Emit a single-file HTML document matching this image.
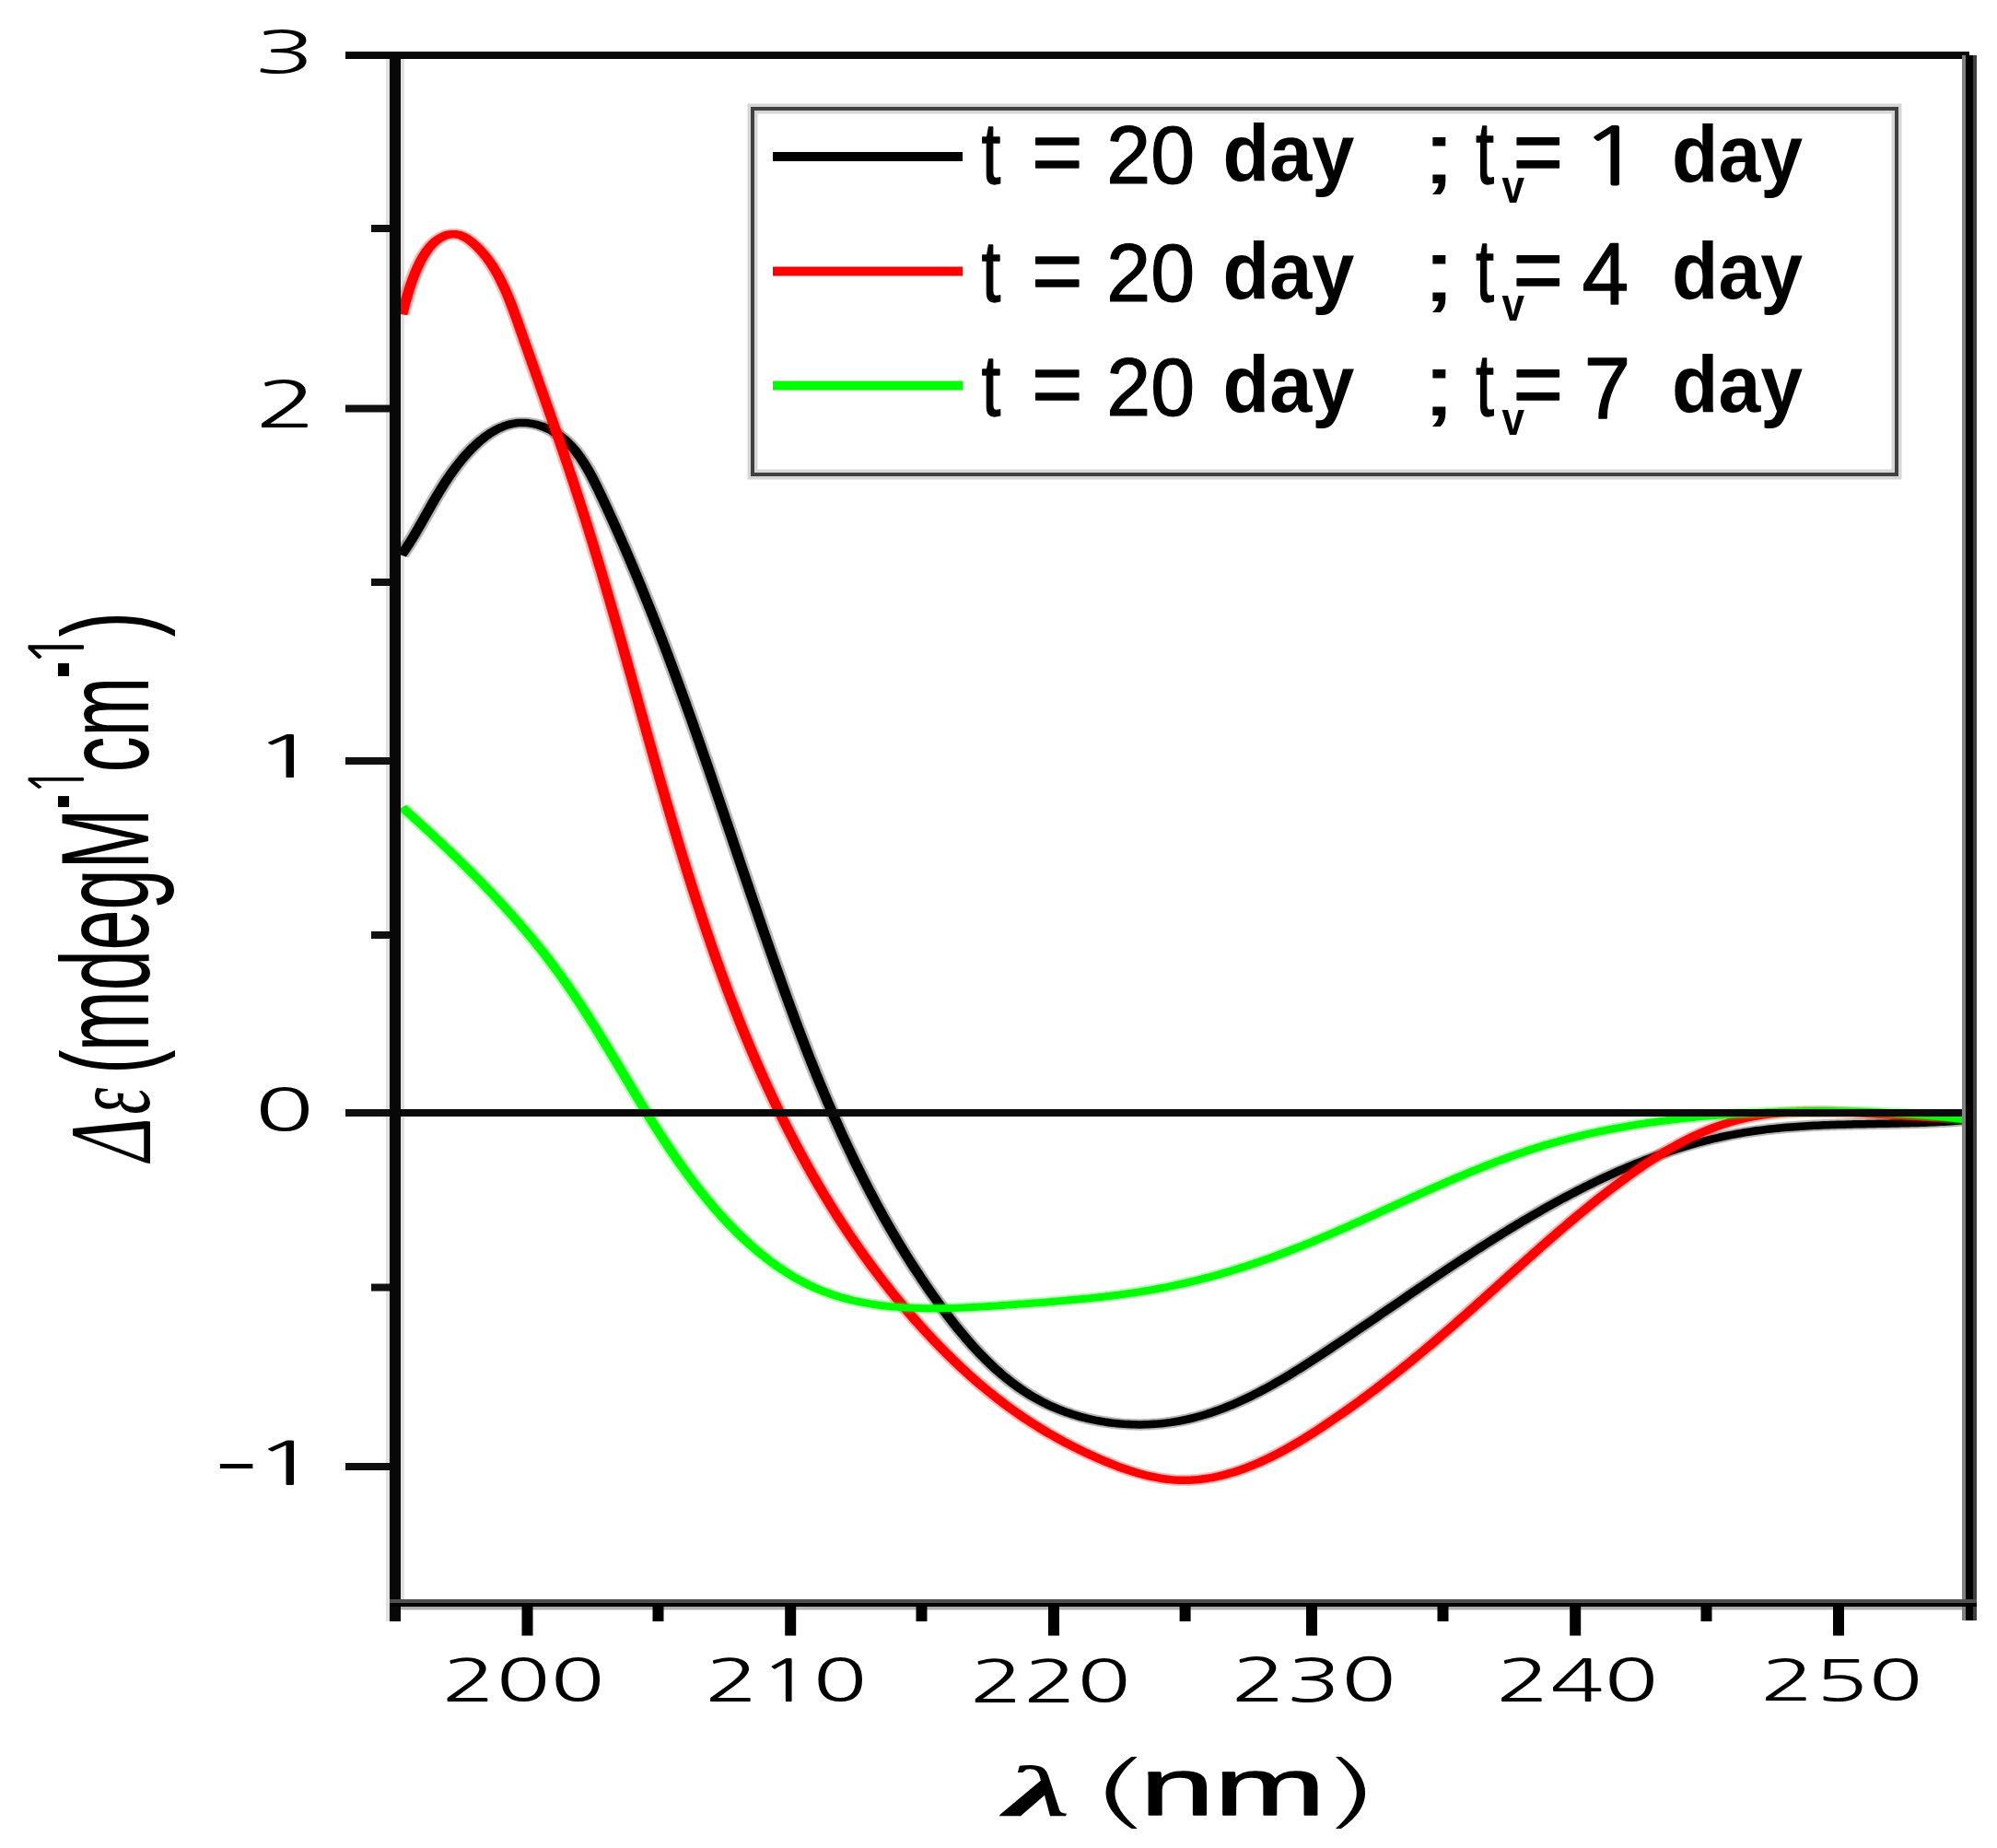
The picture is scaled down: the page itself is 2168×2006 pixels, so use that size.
<!DOCTYPE html><html><head><meta charset="utf-8"><title>CD spectra</title><style>html,body{margin:0;padding:0;background:#fff;overflow:hidden}svg{display:block}</style></head><body><svg width="2168" height="2006" viewBox="0 0 2168 2006"><rect x="0" y="0" width="2168" height="2006" fill="#fff"/>
<rect x="419" y="56" width="4" height="1704" fill="#e0e0e0"/>
<rect x="435" y="64" width="4" height="1672" fill="#e0e0e0"/>
<defs><clipPath id="pc"><rect x="435" y="64" width="1697" height="1672"/></clipPath></defs>
<g clip-path="url(#pc)"><g transform="scale(1.35,1)">
<path d="M322.81,602.48 L324.29,599.63 L325.75,596.75 L327.17,593.84 L328.58,590.90 L329.96,587.94 L331.33,584.95 L332.67,581.94 L334.01,578.91 L335.34,575.87 L336.65,572.80 L337.96,569.72 L339.26,566.63 L340.56,563.52 L341.87,560.41 L343.17,557.29 L344.48,554.16 L345.79,551.02 L347.12,547.89 L348.45,544.75 L349.80,541.62 L351.16,538.49 L352.54,535.36 L353.95,532.24 L355.37,529.13 L356.82,526.03 L358.30,522.93 L359.81,519.86 L361.34,516.80 L362.92,513.75 L364.52,510.73 L366.17,507.72 L367.86,504.74 L369.59,501.79 L371.36,498.85 L373.18,495.96 L375.05,493.10 L376.96,490.29 L378.91,487.54 L380.90,484.86 L382.94,482.26 L385.01,479.75 L387.12,477.34 L389.27,475.03 L391.45,472.83 L393.67,470.76 L395.92,468.83 L398.20,467.04 L400.51,465.40 L402.86,463.92 L405.23,462.62 L407.63,461.49 L410.06,460.56 L412.51,459.82 L414.99,459.29 L417.49,458.98 L420.01,458.89 L422.53,459.00 L425.06,459.30 L427.59,459.80 L430.10,460.49 L432.59,461.35 L435.05,462.38 L437.47,463.58 L439.86,464.93 L442.19,466.42 L444.46,468.06 L446.67,469.83 L448.81,471.73 L450.87,473.74 L452.86,475.87 L454.78,478.11 L456.64,480.46 L458.43,482.90 L460.17,485.44 L461.85,488.06 L463.48,490.77 L465.05,493.56 L466.58,496.42 L468.06,499.35 L469.50,502.35 L470.90,505.40 L472.27,508.51 L473.60,511.66 L474.91,514.86 L476.18,518.09 L477.43,521.36 L478.66,524.66 L479.88,527.98 L481.07,531.31 L482.26,534.66 L483.43,538.01 L484.60,541.37 L485.76,544.73 L486.92,548.09 L488.07,551.45 L489.21,554.81 L490.35,558.17 L491.49,561.53 L492.62,564.89 L493.74,568.25 L494.86,571.62 L495.97,574.98 L497.08,578.34 L498.18,581.71 L499.28,585.07 L500.37,588.44 L501.46,591.80 L502.54,595.17 L503.62,598.54 L504.69,601.90 L505.76,605.27 L506.82,608.64 L507.88,612.01 L508.93,615.38 L509.98,618.75 L511.02,622.12 L512.06,625.49 L513.10,628.86 L514.13,632.23 L515.16,635.61 L516.18,638.98 L517.20,642.35 L518.21,645.73 L519.22,649.10 L520.23,652.48 L521.23,655.85 L522.23,659.23 L523.22,662.60 L524.21,665.98 L525.20,669.36 L526.18,672.73 L527.16,676.11 L528.14,679.49 L529.11,682.87 L530.08,686.25 L531.04,689.63 L532.00,693.01 L532.96,696.39 L533.92,699.77 L534.87,703.15 L535.82,706.53 L536.76,709.92 L537.70,713.30 L538.64,716.68 L539.58,720.07 L540.51,723.45 L541.44,726.83 L542.36,730.22 L543.29,733.60 L544.21,736.99 L545.13,740.38 L546.04,743.76 L546.96,747.15 L547.87,750.54 L548.78,753.92 L549.68,757.31 L550.58,760.70 L551.49,764.09 L552.38,767.48 L553.28,770.87 L554.17,774.26 L555.07,777.65 L555.96,781.04 L556.84,784.43 L557.73,787.82 L558.61,791.21 L559.50,794.60 L560.38,797.99 L561.25,801.39 L562.13,804.78 L563.01,808.17 L563.88,811.57 L564.75,814.96 L565.62,818.35 L566.49,821.75 L567.36,825.14 L568.22,828.54 L569.09,831.93 L569.95,835.33 L570.81,838.73 L571.67,842.12 L572.53,845.52 L573.39,848.92 L574.25,852.31 L575.10,855.71 L575.96,859.11 L576.82,862.51 L577.67,865.90 L578.52,869.30 L579.38,872.70 L580.23,876.10 L581.08,879.50 L581.93,882.90 L582.78,886.30 L583.63,889.70 L584.48,893.10 L585.33,896.50 L586.18,899.90 L587.03,903.30 L587.87,906.70 L588.72,910.11 L589.57,913.51 L590.42,916.91 L591.27,920.31 L592.12,923.72 L592.96,927.12 L593.81,930.52 L594.66,933.92 L595.51,937.33 L596.36,940.73 L597.21,944.14 L598.06,947.54 L598.91,950.94 L599.76,954.35 L600.61,957.75 L601.47,961.16 L602.32,964.56 L603.17,967.97 L604.03,971.37 L604.88,974.78 L605.74,978.18 L606.60,981.59 L607.45,985.00 L608.31,988.40 L609.17,991.81 L610.04,995.22 L610.90,998.62 L611.76,1002.03 L612.63,1005.44 L613.50,1008.84 L614.36,1012.25 L615.23,1015.66 L616.10,1019.07 L616.98,1022.47 L617.85,1025.88 L618.73,1029.29 L619.61,1032.70 L620.49,1036.11 L621.37,1039.51 L622.25,1042.92 L623.14,1046.33 L624.02,1049.73 L624.92,1053.14 L625.81,1056.55 L626.70,1059.95 L627.60,1063.35 L628.50,1066.76 L629.40,1070.16 L630.31,1073.56 L631.21,1076.96 L632.12,1080.37 L633.04,1083.76 L633.95,1087.16 L634.87,1090.56 L635.79,1093.96 L636.72,1097.35 L637.65,1100.74 L638.58,1104.13 L639.51,1107.52 L640.45,1110.91 L641.39,1114.30 L642.34,1117.69 L643.29,1121.07 L644.24,1124.45 L645.20,1127.83 L646.16,1131.21 L647.12,1134.58 L648.09,1137.96 L649.06,1141.33 L650.04,1144.70 L651.02,1148.07 L652.00,1151.43 L652.99,1154.79 L653.98,1158.15 L654.98,1161.51 L655.98,1164.86 L656.99,1168.22 L658.00,1171.57 L659.02,1174.91 L660.04,1178.26 L661.07,1181.60 L662.10,1184.93 L663.13,1188.27 L664.17,1191.60 L665.22,1194.93 L666.27,1198.25 L667.33,1201.57 L668.39,1204.89 L669.46,1208.21 L670.53,1211.52 L671.61,1214.83 L672.69,1218.13 L673.78,1221.43 L674.88,1224.73 L675.98,1228.02 L677.09,1231.31 L678.20,1234.59 L679.32,1237.87 L680.45,1241.15 L681.58,1244.42 L682.72,1247.69 L683.87,1250.95 L685.02,1254.21 L686.17,1257.46 L687.34,1260.71 L688.51,1263.96 L689.69,1267.20 L690.87,1270.44 L692.06,1273.67 L693.26,1276.89 L694.47,1280.12 L695.68,1283.33 L696.90,1286.54 L698.12,1289.75 L699.36,1292.95 L700.60,1296.15 L701.85,1299.34 L703.11,1302.52 L704.37,1305.70 L705.64,1308.88 L706.92,1312.05 L708.21,1315.21 L709.50,1318.37 L710.80,1321.52 L712.11,1324.66 L713.43,1327.80 L714.76,1330.94 L716.09,1334.06 L717.44,1337.19 L718.79,1340.30 L720.15,1343.41 L721.52,1346.51 L722.90,1349.61 L724.28,1352.70 L725.68,1355.78 L727.08,1358.86 L728.49,1361.93 L729.91,1364.99 L731.34,1368.05 L732.78,1371.10 L734.23,1374.14 L735.69,1377.18 L737.15,1380.21 L738.63,1383.23 L740.11,1386.25 L741.61,1389.25 L743.11,1392.25 L744.63,1395.25 L746.15,1398.23 L747.68,1401.21 L749.22,1404.18 L750.78,1407.14 L752.34,1410.10 L753.91,1413.05 L755.50,1415.99 L757.09,1418.92 L758.69,1421.84 L760.31,1424.75 L761.93,1427.66 L763.57,1430.55 L765.22,1433.43 L766.88,1436.29 L768.55,1439.14 L770.24,1441.98 L771.94,1444.79 L773.65,1447.59 L775.38,1450.37 L777.12,1453.13 L778.87,1455.87 L780.64,1458.59 L782.43,1461.28 L784.23,1463.95 L786.04,1466.59 L787.87,1469.21 L789.72,1471.80 L791.59,1474.36 L793.47,1476.89 L795.37,1479.40 L797.29,1481.87 L799.23,1484.30 L801.18,1486.70 L803.16,1489.07 L805.15,1491.41 L807.16,1493.70 L809.20,1495.96 L811.25,1498.18 L813.32,1500.35 L815.42,1502.49 L817.53,1504.58 L819.67,1506.64 L821.83,1508.64 L824.01,1510.60 L826.22,1512.52 L828.44,1514.39 L830.69,1516.21 L832.97,1517.98 L835.27,1519.69 L837.59,1521.36 L839.94,1522.98 L842.31,1524.54 L844.71,1526.04 L847.12,1527.50 L849.57,1528.90 L852.03,1530.24 L854.51,1531.54 L857.01,1532.78 L859.53,1533.96 L862.07,1535.09 L864.62,1536.17 L867.19,1537.19 L869.78,1538.16 L872.37,1539.08 L874.99,1539.94 L877.61,1540.75 L880.24,1541.51 L882.89,1542.21 L885.54,1542.85 L888.21,1543.45 L890.88,1543.98 L893.55,1544.47 L896.24,1544.90 L898.92,1545.27 L901.62,1545.60 L904.31,1545.86 L907.01,1546.08 L909.71,1546.24 L912.41,1546.34 L915.10,1546.39 L917.80,1546.39 L920.49,1546.33 L923.19,1546.22 L925.87,1546.05 L928.56,1545.83 L931.23,1545.56 L933.90,1545.23 L936.56,1544.84 L939.22,1544.40 L941.86,1543.91 L944.49,1543.36 L947.12,1542.76 L949.73,1542.10 L952.33,1541.39 L954.92,1540.64 L957.50,1539.83 L960.07,1538.97 L962.64,1538.07 L965.19,1537.11 L967.73,1536.11 L970.26,1535.07 L972.78,1533.98 L975.30,1532.85 L977.80,1531.68 L980.30,1530.47 L982.78,1529.21 L985.26,1527.92 L987.73,1526.59 L990.19,1525.23 L992.64,1523.82 L995.08,1522.39 L997.52,1520.91 L999.95,1519.41 L1002.37,1517.87 L1004.78,1516.31 L1007.18,1514.71 L1009.58,1513.08 L1011.97,1511.43 L1014.35,1509.75 L1016.72,1508.04 L1019.09,1506.31 L1021.45,1504.56 L1023.81,1502.78 L1026.15,1500.98 L1028.49,1499.16 L1030.83,1497.32 L1033.16,1495.46 L1035.48,1493.58 L1037.79,1491.69 L1040.10,1489.78 L1042.41,1487.85 L1044.71,1485.92 L1047.00,1483.97 L1049.29,1482.00 L1051.57,1480.03 L1053.85,1478.05 L1056.12,1476.06 L1058.39,1474.06 L1060.66,1472.05 L1062.91,1470.04 L1065.17,1468.02 L1067.42,1466.00 L1069.66,1463.98 L1071.91,1461.96 L1074.14,1459.93 L1076.38,1457.90 L1078.61,1455.88 L1080.83,1453.85 L1083.06,1451.82 L1085.28,1449.79 L1087.50,1447.77 L1089.71,1445.74 L1091.92,1443.71 L1094.13,1441.68 L1096.34,1439.65 L1098.54,1437.62 L1100.75,1435.59 L1102.95,1433.56 L1105.15,1431.53 L1107.34,1429.51 L1109.54,1427.48 L1111.74,1425.45 L1113.93,1423.42 L1116.12,1421.40 L1118.31,1419.37 L1120.51,1417.35 L1122.70,1415.32 L1124.89,1413.30 L1127.08,1411.28 L1129.27,1409.26 L1131.46,1407.24 L1133.65,1405.22 L1135.84,1403.21 L1138.03,1401.19 L1140.22,1399.18 L1142.42,1397.17 L1144.61,1395.16 L1146.81,1393.15 L1149.01,1391.14 L1151.21,1389.14 L1153.41,1387.13 L1155.61,1385.13 L1157.81,1383.14 L1160.02,1381.14 L1162.23,1379.15 L1164.44,1377.16 L1166.65,1375.17 L1168.87,1373.18 L1171.09,1371.20 L1173.31,1369.22 L1175.54,1367.24 L1177.77,1365.27 L1180.00,1363.29 L1182.24,1361.33 L1184.48,1359.36 L1186.72,1357.40 L1188.97,1355.45 L1191.22,1353.49 L1193.47,1351.55 L1195.73,1349.61 L1197.99,1347.67 L1200.26,1345.74 L1202.53,1343.81 L1204.80,1341.89 L1207.07,1339.98 L1209.35,1338.07 L1211.64,1336.17 L1213.92,1334.28 L1216.21,1332.40 L1218.51,1330.52 L1220.81,1328.65 L1223.11,1326.78 L1225.41,1324.93 L1227.72,1323.08 L1230.04,1321.25 L1232.35,1319.42 L1234.67,1317.60 L1237.00,1315.79 L1239.33,1313.99 L1241.66,1312.20 L1244.00,1310.42 L1246.34,1308.66 L1248.68,1306.90 L1251.03,1305.15 L1253.39,1303.42 L1255.74,1301.69 L1258.10,1299.98 L1260.47,1298.28 L1262.84,1296.59 L1265.21,1294.92 L1267.59,1293.25 L1269.97,1291.60 L1272.36,1289.97 L1274.75,1288.34 L1277.14,1286.74 L1279.54,1285.14 L1281.94,1283.56 L1284.35,1281.99 L1286.76,1280.44 L1289.18,1278.91 L1291.60,1277.38 L1294.02,1275.88 L1296.45,1274.39 L1298.88,1272.92 L1301.32,1271.46 L1303.76,1270.02 L1306.21,1268.59 L1308.66,1267.19 L1311.12,1265.80 L1313.58,1264.43 L1316.04,1263.07 L1318.51,1261.74 L1320.99,1260.42 L1323.46,1259.12 L1325.95,1257.84 L1328.44,1256.58 L1330.93,1255.33 L1333.43,1254.11 L1335.93,1252.91 L1338.43,1251.73 L1340.95,1250.56 L1343.46,1249.42 L1345.98,1248.30 L1348.51,1247.20 L1351.04,1246.12 L1353.57,1245.07 L1356.11,1244.03 L1358.66,1243.02 L1361.21,1242.03 L1363.76,1241.06 L1366.32,1240.12 L1368.89,1239.19 L1371.46,1238.30 L1374.03,1237.42 L1376.61,1236.57 L1379.20,1235.74 L1381.79,1234.94 L1384.38,1234.16 L1386.98,1233.41 L1389.59,1232.68 L1392.20,1231.98 L1394.82,1231.30 L1397.44,1230.65 L1400.06,1230.02 L1402.69,1229.42 L1405.33,1228.85 L1407.97,1228.30 L1410.62,1227.78 L1413.27,1227.28 L1415.92,1226.81 L1418.58,1226.35 L1421.24,1225.92 L1423.91,1225.51 L1426.58,1225.13 L1429.26,1224.76 L1431.93,1224.41 L1434.61,1224.08 L1437.30,1223.77 L1439.98,1223.47 L1442.67,1223.20 L1445.36,1222.94 L1448.05,1222.69 L1450.75,1222.46 L1453.45,1222.25 L1456.15,1222.04 L1458.84,1221.85 L1461.55,1221.68 L1464.25,1221.51 L1466.95,1221.36 L1469.66,1221.21 L1472.36,1221.08 L1475.06,1220.96 L1477.77,1220.84 L1480.47,1220.73 L1483.18,1220.63 L1485.88,1220.53 L1488.59,1220.44 L1491.29,1220.36 L1493.99,1220.28 L1496.69,1220.21 L1499.39,1220.13 L1502.09,1220.06 L1504.79,1220.00 L1507.48,1219.93 L1510.18,1219.86 L1512.87,1219.80 L1515.56,1219.73 L1518.24,1219.66 L1520.93,1219.59 L1523.61,1219.52 L1526.28,1219.45 L1528.96,1219.37 L1531.63,1219.28 L1534.29,1219.19 L1536.96,1219.10 L1539.62,1219.00 L1542.27,1218.89 L1544.92,1218.77 L1547.57,1218.65 L1550.21,1218.51 L1552.84,1218.37 L1555.47,1218.22 L1558.10,1218.05 L1560.72,1217.87 L1563.33,1217.69 L1565.94,1217.48 L1568.55,1217.27 L1571.14,1217.04 L1573.73,1216.79 L1576.32,1216.53 L1578.89,1216.25" fill="none" stroke="#000000" stroke-opacity="0.28" stroke-width="12.5" stroke-linejoin="round" stroke-linecap="butt"/><path d="M322.81,602.48 L324.29,599.63 L325.75,596.75 L327.17,593.84 L328.58,590.90 L329.96,587.94 L331.33,584.95 L332.67,581.94 L334.01,578.91 L335.34,575.87 L336.65,572.80 L337.96,569.72 L339.26,566.63 L340.56,563.52 L341.87,560.41 L343.17,557.29 L344.48,554.16 L345.79,551.02 L347.12,547.89 L348.45,544.75 L349.80,541.62 L351.16,538.49 L352.54,535.36 L353.95,532.24 L355.37,529.13 L356.82,526.03 L358.30,522.93 L359.81,519.86 L361.34,516.80 L362.92,513.75 L364.52,510.73 L366.17,507.72 L367.86,504.74 L369.59,501.79 L371.36,498.85 L373.18,495.96 L375.05,493.10 L376.96,490.29 L378.91,487.54 L380.90,484.86 L382.94,482.26 L385.01,479.75 L387.12,477.34 L389.27,475.03 L391.45,472.83 L393.67,470.76 L395.92,468.83 L398.20,467.04 L400.51,465.40 L402.86,463.92 L405.23,462.62 L407.63,461.49 L410.06,460.56 L412.51,459.82 L414.99,459.29 L417.49,458.98 L420.01,458.89 L422.53,459.00 L425.06,459.30 L427.59,459.80 L430.10,460.49 L432.59,461.35 L435.05,462.38 L437.47,463.58 L439.86,464.93 L442.19,466.42 L444.46,468.06 L446.67,469.83 L448.81,471.73 L450.87,473.74 L452.86,475.87 L454.78,478.11 L456.64,480.46 L458.43,482.90 L460.17,485.44 L461.85,488.06 L463.48,490.77 L465.05,493.56 L466.58,496.42 L468.06,499.35 L469.50,502.35 L470.90,505.40 L472.27,508.51 L473.60,511.66 L474.91,514.86 L476.18,518.09 L477.43,521.36 L478.66,524.66 L479.88,527.98 L481.07,531.31 L482.26,534.66 L483.43,538.01 L484.60,541.37 L485.76,544.73 L486.92,548.09 L488.07,551.45 L489.21,554.81 L490.35,558.17 L491.49,561.53 L492.62,564.89 L493.74,568.25 L494.86,571.62 L495.97,574.98 L497.08,578.34 L498.18,581.71 L499.28,585.07 L500.37,588.44 L501.46,591.80 L502.54,595.17 L503.62,598.54 L504.69,601.90 L505.76,605.27 L506.82,608.64 L507.88,612.01 L508.93,615.38 L509.98,618.75 L511.02,622.12 L512.06,625.49 L513.10,628.86 L514.13,632.23 L515.16,635.61 L516.18,638.98 L517.20,642.35 L518.21,645.73 L519.22,649.10 L520.23,652.48 L521.23,655.85 L522.23,659.23 L523.22,662.60 L524.21,665.98 L525.20,669.36 L526.18,672.73 L527.16,676.11 L528.14,679.49 L529.11,682.87 L530.08,686.25 L531.04,689.63 L532.00,693.01 L532.96,696.39 L533.92,699.77 L534.87,703.15 L535.82,706.53 L536.76,709.92 L537.70,713.30 L538.64,716.68 L539.58,720.07 L540.51,723.45 L541.44,726.83 L542.36,730.22 L543.29,733.60 L544.21,736.99 L545.13,740.38 L546.04,743.76 L546.96,747.15 L547.87,750.54 L548.78,753.92 L549.68,757.31 L550.58,760.70 L551.49,764.09 L552.38,767.48 L553.28,770.87 L554.17,774.26 L555.07,777.65 L555.96,781.04 L556.84,784.43 L557.73,787.82 L558.61,791.21 L559.50,794.60 L560.38,797.99 L561.25,801.39 L562.13,804.78 L563.01,808.17 L563.88,811.57 L564.75,814.96 L565.62,818.35 L566.49,821.75 L567.36,825.14 L568.22,828.54 L569.09,831.93 L569.95,835.33 L570.81,838.73 L571.67,842.12 L572.53,845.52 L573.39,848.92 L574.25,852.31 L575.10,855.71 L575.96,859.11 L576.82,862.51 L577.67,865.90 L578.52,869.30 L579.38,872.70 L580.23,876.10 L581.08,879.50 L581.93,882.90 L582.78,886.30 L583.63,889.70 L584.48,893.10 L585.33,896.50 L586.18,899.90 L587.03,903.30 L587.87,906.70 L588.72,910.11 L589.57,913.51 L590.42,916.91 L591.27,920.31 L592.12,923.72 L592.96,927.12 L593.81,930.52 L594.66,933.92 L595.51,937.33 L596.36,940.73 L597.21,944.14 L598.06,947.54 L598.91,950.94 L599.76,954.35 L600.61,957.75 L601.47,961.16 L602.32,964.56 L603.17,967.97 L604.03,971.37 L604.88,974.78 L605.74,978.18 L606.60,981.59 L607.45,985.00 L608.31,988.40 L609.17,991.81 L610.04,995.22 L610.90,998.62 L611.76,1002.03 L612.63,1005.44 L613.50,1008.84 L614.36,1012.25 L615.23,1015.66 L616.10,1019.07 L616.98,1022.47 L617.85,1025.88 L618.73,1029.29 L619.61,1032.70 L620.49,1036.11 L621.37,1039.51 L622.25,1042.92 L623.14,1046.33 L624.02,1049.73 L624.92,1053.14 L625.81,1056.55 L626.70,1059.95 L627.60,1063.35 L628.50,1066.76 L629.40,1070.16 L630.31,1073.56 L631.21,1076.96 L632.12,1080.37 L633.04,1083.76 L633.95,1087.16 L634.87,1090.56 L635.79,1093.96 L636.72,1097.35 L637.65,1100.74 L638.58,1104.13 L639.51,1107.52 L640.45,1110.91 L641.39,1114.30 L642.34,1117.69 L643.29,1121.07 L644.24,1124.45 L645.20,1127.83 L646.16,1131.21 L647.12,1134.58 L648.09,1137.96 L649.06,1141.33 L650.04,1144.70 L651.02,1148.07 L652.00,1151.43 L652.99,1154.79 L653.98,1158.15 L654.98,1161.51 L655.98,1164.86 L656.99,1168.22 L658.00,1171.57 L659.02,1174.91 L660.04,1178.26 L661.07,1181.60 L662.10,1184.93 L663.13,1188.27 L664.17,1191.60 L665.22,1194.93 L666.27,1198.25 L667.33,1201.57 L668.39,1204.89 L669.46,1208.21 L670.53,1211.52 L671.61,1214.83 L672.69,1218.13 L673.78,1221.43 L674.88,1224.73 L675.98,1228.02 L677.09,1231.31 L678.20,1234.59 L679.32,1237.87 L680.45,1241.15 L681.58,1244.42 L682.72,1247.69 L683.87,1250.95 L685.02,1254.21 L686.17,1257.46 L687.34,1260.71 L688.51,1263.96 L689.69,1267.20 L690.87,1270.44 L692.06,1273.67 L693.26,1276.89 L694.47,1280.12 L695.68,1283.33 L696.90,1286.54 L698.12,1289.75 L699.36,1292.95 L700.60,1296.15 L701.85,1299.34 L703.11,1302.52 L704.37,1305.70 L705.64,1308.88 L706.92,1312.05 L708.21,1315.21 L709.50,1318.37 L710.80,1321.52 L712.11,1324.66 L713.43,1327.80 L714.76,1330.94 L716.09,1334.06 L717.44,1337.19 L718.79,1340.30 L720.15,1343.41 L721.52,1346.51 L722.90,1349.61 L724.28,1352.70 L725.68,1355.78 L727.08,1358.86 L728.49,1361.93 L729.91,1364.99 L731.34,1368.05 L732.78,1371.10 L734.23,1374.14 L735.69,1377.18 L737.15,1380.21 L738.63,1383.23 L740.11,1386.25 L741.61,1389.25 L743.11,1392.25 L744.63,1395.25 L746.15,1398.23 L747.68,1401.21 L749.22,1404.18 L750.78,1407.14 L752.34,1410.10 L753.91,1413.05 L755.50,1415.99 L757.09,1418.92 L758.69,1421.84 L760.31,1424.75 L761.93,1427.66 L763.57,1430.55 L765.22,1433.43 L766.88,1436.29 L768.55,1439.14 L770.24,1441.98 L771.94,1444.79 L773.65,1447.59 L775.38,1450.37 L777.12,1453.13 L778.87,1455.87 L780.64,1458.59 L782.43,1461.28 L784.23,1463.95 L786.04,1466.59 L787.87,1469.21 L789.72,1471.80 L791.59,1474.36 L793.47,1476.89 L795.37,1479.40 L797.29,1481.87 L799.23,1484.30 L801.18,1486.70 L803.16,1489.07 L805.15,1491.41 L807.16,1493.70 L809.20,1495.96 L811.25,1498.18 L813.32,1500.35 L815.42,1502.49 L817.53,1504.58 L819.67,1506.64 L821.83,1508.64 L824.01,1510.60 L826.22,1512.52 L828.44,1514.39 L830.69,1516.21 L832.97,1517.98 L835.27,1519.69 L837.59,1521.36 L839.94,1522.98 L842.31,1524.54 L844.71,1526.04 L847.12,1527.50 L849.57,1528.90 L852.03,1530.24 L854.51,1531.54 L857.01,1532.78 L859.53,1533.96 L862.07,1535.09 L864.62,1536.17 L867.19,1537.19 L869.78,1538.16 L872.37,1539.08 L874.99,1539.94 L877.61,1540.75 L880.24,1541.51 L882.89,1542.21 L885.54,1542.85 L888.21,1543.45 L890.88,1543.98 L893.55,1544.47 L896.24,1544.90 L898.92,1545.27 L901.62,1545.60 L904.31,1545.86 L907.01,1546.08 L909.71,1546.24 L912.41,1546.34 L915.10,1546.39 L917.80,1546.39 L920.49,1546.33 L923.19,1546.22 L925.87,1546.05 L928.56,1545.83 L931.23,1545.56 L933.90,1545.23 L936.56,1544.84 L939.22,1544.40 L941.86,1543.91 L944.49,1543.36 L947.12,1542.76 L949.73,1542.10 L952.33,1541.39 L954.92,1540.64 L957.50,1539.83 L960.07,1538.97 L962.64,1538.07 L965.19,1537.11 L967.73,1536.11 L970.26,1535.07 L972.78,1533.98 L975.30,1532.85 L977.80,1531.68 L980.30,1530.47 L982.78,1529.21 L985.26,1527.92 L987.73,1526.59 L990.19,1525.23 L992.64,1523.82 L995.08,1522.39 L997.52,1520.91 L999.95,1519.41 L1002.37,1517.87 L1004.78,1516.31 L1007.18,1514.71 L1009.58,1513.08 L1011.97,1511.43 L1014.35,1509.75 L1016.72,1508.04 L1019.09,1506.31 L1021.45,1504.56 L1023.81,1502.78 L1026.15,1500.98 L1028.49,1499.16 L1030.83,1497.32 L1033.16,1495.46 L1035.48,1493.58 L1037.79,1491.69 L1040.10,1489.78 L1042.41,1487.85 L1044.71,1485.92 L1047.00,1483.97 L1049.29,1482.00 L1051.57,1480.03 L1053.85,1478.05 L1056.12,1476.06 L1058.39,1474.06 L1060.66,1472.05 L1062.91,1470.04 L1065.17,1468.02 L1067.42,1466.00 L1069.66,1463.98 L1071.91,1461.96 L1074.14,1459.93 L1076.38,1457.90 L1078.61,1455.88 L1080.83,1453.85 L1083.06,1451.82 L1085.28,1449.79 L1087.50,1447.77 L1089.71,1445.74 L1091.92,1443.71 L1094.13,1441.68 L1096.34,1439.65 L1098.54,1437.62 L1100.75,1435.59 L1102.95,1433.56 L1105.15,1431.53 L1107.34,1429.51 L1109.54,1427.48 L1111.74,1425.45 L1113.93,1423.42 L1116.12,1421.40 L1118.31,1419.37 L1120.51,1417.35 L1122.70,1415.32 L1124.89,1413.30 L1127.08,1411.28 L1129.27,1409.26 L1131.46,1407.24 L1133.65,1405.22 L1135.84,1403.21 L1138.03,1401.19 L1140.22,1399.18 L1142.42,1397.17 L1144.61,1395.16 L1146.81,1393.15 L1149.01,1391.14 L1151.21,1389.14 L1153.41,1387.13 L1155.61,1385.13 L1157.81,1383.14 L1160.02,1381.14 L1162.23,1379.15 L1164.44,1377.16 L1166.65,1375.17 L1168.87,1373.18 L1171.09,1371.20 L1173.31,1369.22 L1175.54,1367.24 L1177.77,1365.27 L1180.00,1363.29 L1182.24,1361.33 L1184.48,1359.36 L1186.72,1357.40 L1188.97,1355.45 L1191.22,1353.49 L1193.47,1351.55 L1195.73,1349.61 L1197.99,1347.67 L1200.26,1345.74 L1202.53,1343.81 L1204.80,1341.89 L1207.07,1339.98 L1209.35,1338.07 L1211.64,1336.17 L1213.92,1334.28 L1216.21,1332.40 L1218.51,1330.52 L1220.81,1328.65 L1223.11,1326.78 L1225.41,1324.93 L1227.72,1323.08 L1230.04,1321.25 L1232.35,1319.42 L1234.67,1317.60 L1237.00,1315.79 L1239.33,1313.99 L1241.66,1312.20 L1244.00,1310.42 L1246.34,1308.66 L1248.68,1306.90 L1251.03,1305.15 L1253.39,1303.42 L1255.74,1301.69 L1258.10,1299.98 L1260.47,1298.28 L1262.84,1296.59 L1265.21,1294.92 L1267.59,1293.25 L1269.97,1291.60 L1272.36,1289.97 L1274.75,1288.34 L1277.14,1286.74 L1279.54,1285.14 L1281.94,1283.56 L1284.35,1281.99 L1286.76,1280.44 L1289.18,1278.91 L1291.60,1277.38 L1294.02,1275.88 L1296.45,1274.39 L1298.88,1272.92 L1301.32,1271.46 L1303.76,1270.02 L1306.21,1268.59 L1308.66,1267.19 L1311.12,1265.80 L1313.58,1264.43 L1316.04,1263.07 L1318.51,1261.74 L1320.99,1260.42 L1323.46,1259.12 L1325.95,1257.84 L1328.44,1256.58 L1330.93,1255.33 L1333.43,1254.11 L1335.93,1252.91 L1338.43,1251.73 L1340.95,1250.56 L1343.46,1249.42 L1345.98,1248.30 L1348.51,1247.20 L1351.04,1246.12 L1353.57,1245.07 L1356.11,1244.03 L1358.66,1243.02 L1361.21,1242.03 L1363.76,1241.06 L1366.32,1240.12 L1368.89,1239.19 L1371.46,1238.30 L1374.03,1237.42 L1376.61,1236.57 L1379.20,1235.74 L1381.79,1234.94 L1384.38,1234.16 L1386.98,1233.41 L1389.59,1232.68 L1392.20,1231.98 L1394.82,1231.30 L1397.44,1230.65 L1400.06,1230.02 L1402.69,1229.42 L1405.33,1228.85 L1407.97,1228.30 L1410.62,1227.78 L1413.27,1227.28 L1415.92,1226.81 L1418.58,1226.35 L1421.24,1225.92 L1423.91,1225.51 L1426.58,1225.13 L1429.26,1224.76 L1431.93,1224.41 L1434.61,1224.08 L1437.30,1223.77 L1439.98,1223.47 L1442.67,1223.20 L1445.36,1222.94 L1448.05,1222.69 L1450.75,1222.46 L1453.45,1222.25 L1456.15,1222.04 L1458.84,1221.85 L1461.55,1221.68 L1464.25,1221.51 L1466.95,1221.36 L1469.66,1221.21 L1472.36,1221.08 L1475.06,1220.96 L1477.77,1220.84 L1480.47,1220.73 L1483.18,1220.63 L1485.88,1220.53 L1488.59,1220.44 L1491.29,1220.36 L1493.99,1220.28 L1496.69,1220.21 L1499.39,1220.13 L1502.09,1220.06 L1504.79,1220.00 L1507.48,1219.93 L1510.18,1219.86 L1512.87,1219.80 L1515.56,1219.73 L1518.24,1219.66 L1520.93,1219.59 L1523.61,1219.52 L1526.28,1219.45 L1528.96,1219.37 L1531.63,1219.28 L1534.29,1219.19 L1536.96,1219.10 L1539.62,1219.00 L1542.27,1218.89 L1544.92,1218.77 L1547.57,1218.65 L1550.21,1218.51 L1552.84,1218.37 L1555.47,1218.22 L1558.10,1218.05 L1560.72,1217.87 L1563.33,1217.69 L1565.94,1217.48 L1568.55,1217.27 L1571.14,1217.04 L1573.73,1216.79 L1576.32,1216.53 L1578.89,1216.25" fill="none" stroke="#000000" stroke-width="8.5" stroke-linejoin="round" stroke-linecap="butt"/>
<path d="M323.35,341.33 L324.01,338.11 L324.68,334.81 L325.36,331.43 L326.06,327.97 L326.79,324.44 L327.56,320.83 L328.37,317.15 L329.23,313.41 L330.15,309.61 L331.13,305.75 L332.19,301.83 L333.32,297.86 L334.55,293.85 L335.86,289.84 L337.26,285.86 L338.76,281.96 L340.36,278.16 L342.05,274.52 L343.85,271.07 L345.75,267.84 L347.76,264.88 L349.89,262.22 L352.12,259.90 L354.44,257.94 L356.83,256.36 L359.27,255.19 L361.75,254.44 L364.23,254.13 L366.70,254.29 L369.15,254.95 L371.54,256.08 L373.89,257.63 L376.18,259.52 L378.41,261.70 L380.56,264.08 L382.64,266.61 L384.65,269.25 L386.58,271.97 L388.44,274.80 L390.23,277.71 L391.96,280.70 L393.62,283.77 L395.22,286.93 L396.76,290.15 L398.25,293.44 L399.69,296.80 L401.08,300.21 L402.42,303.68 L403.72,307.21 L404.98,310.78 L406.20,314.39 L407.39,318.05 L408.55,321.74 L409.67,325.46 L410.77,329.21 L411.84,332.98 L412.90,336.77 L413.94,340.57 L414.96,344.39 L415.97,348.21 L416.96,352.04 L417.96,355.87 L418.94,359.69 L419.93,363.50 L420.92,367.30 L421.90,371.09 L422.89,374.88 L423.87,378.65 L424.85,382.42 L425.83,386.18 L426.81,389.93 L427.79,393.67 L428.76,397.41 L429.74,401.13 L430.71,404.86 L431.68,408.57 L432.65,412.28 L433.62,415.98 L434.58,419.68 L435.55,423.37 L436.51,427.06 L437.47,430.74 L438.43,434.42 L439.39,438.09 L440.34,441.76 L441.29,445.43 L442.24,449.09 L443.19,452.75 L444.14,456.41 L445.08,460.06 L446.02,463.71 L446.96,467.36 L447.90,471.00 L448.83,474.65 L449.77,478.29 L450.69,481.94 L451.62,485.58 L452.54,489.22 L453.46,492.86 L454.38,496.50 L455.30,500.14 L456.21,503.78 L457.12,507.43 L458.02,511.07 L458.93,514.71 L459.83,518.36 L460.72,522.01 L461.62,525.66 L462.51,529.31 L463.39,532.97 L464.28,536.63 L465.16,540.29 L466.03,543.96 L466.91,547.63 L467.78,551.30 L468.64,554.98 L469.51,558.66 L470.37,562.34 L471.22,566.03 L472.08,569.72 L472.93,573.41 L473.78,577.10 L474.62,580.80 L475.46,584.50 L476.30,588.21 L477.14,591.92 L477.97,595.63 L478.80,599.34 L479.63,603.06 L480.46,606.78 L481.28,610.50 L482.11,614.22 L482.93,617.95 L483.74,621.68 L484.56,625.41 L485.37,629.14 L486.18,632.88 L486.99,636.62 L487.80,640.36 L488.60,644.10 L489.41,647.85 L490.21,651.59 L491.01,655.34 L491.81,659.10 L492.61,662.85 L493.40,666.60 L494.20,670.36 L494.99,674.12 L495.78,677.88 L496.57,681.64 L497.36,685.41 L498.15,689.17 L498.94,692.94 L499.73,696.71 L500.51,700.48 L501.30,704.25 L502.08,708.02 L502.87,711.80 L503.65,715.57 L504.43,719.35 L505.21,723.13 L505.99,726.90 L506.77,730.68 L507.56,734.46 L508.34,738.25 L509.12,742.03 L509.90,745.81 L510.68,749.60 L511.46,753.38 L512.24,757.17 L513.02,760.95 L513.80,764.74 L514.58,768.53 L515.36,772.31 L516.14,776.10 L516.92,779.89 L517.70,783.68 L518.49,787.47 L519.27,791.26 L520.05,795.05 L520.84,798.84 L521.63,802.63 L522.41,806.42 L523.20,810.21 L523.99,814.00 L524.78,817.79 L525.57,821.58 L526.36,825.37 L527.15,829.15 L527.95,832.94 L528.74,836.73 L529.54,840.52 L530.34,844.31 L531.14,848.09 L531.94,851.88 L532.74,855.66 L533.55,859.45 L534.36,863.23 L535.17,867.02 L535.98,870.80 L536.79,874.58 L537.60,878.36 L538.42,882.14 L539.24,885.92 L540.06,889.70 L540.89,893.47 L541.71,897.25 L542.54,901.02 L543.37,904.79 L544.21,908.56 L545.04,912.33 L545.88,916.10 L546.72,919.87 L547.57,923.63 L548.41,927.40 L549.26,931.16 L550.12,934.92 L550.97,938.68 L551.83,942.44 L552.70,946.19 L553.56,949.94 L554.43,953.69 L555.30,957.44 L556.18,961.19 L557.06,964.94 L557.94,968.68 L558.83,972.42 L559.72,976.16 L560.61,979.89 L561.51,983.63 L562.41,987.36 L563.32,991.09 L564.23,994.81 L565.14,998.54 L566.06,1002.26 L566.98,1005.97 L567.91,1009.69 L568.84,1013.40 L569.77,1017.11 L570.71,1020.82 L571.65,1024.52 L572.60,1028.23 L573.56,1031.92 L574.51,1035.62 L575.48,1039.31 L576.44,1043.00 L577.41,1046.69 L578.39,1050.37 L579.37,1054.05 L580.36,1057.72 L581.35,1061.39 L582.35,1065.06 L583.35,1068.73 L584.36,1072.39 L585.37,1076.05 L586.39,1079.70 L587.42,1083.35 L588.45,1087.00 L589.48,1090.64 L590.52,1094.28 L591.57,1097.92 L592.62,1101.55 L593.68,1105.17 L594.74,1108.80 L595.81,1112.42 L596.89,1116.03 L597.97,1119.64 L599.06,1123.25 L600.16,1126.85 L601.26,1130.45 L602.36,1134.04 L603.48,1137.63 L604.60,1141.21 L605.73,1144.79 L606.86,1148.37 L608.00,1151.94 L609.15,1155.50 L610.30,1159.06 L611.46,1162.62 L612.63,1166.17 L613.80,1169.71 L614.98,1173.25 L616.17,1176.79 L617.37,1180.32 L618.57,1183.85 L619.78,1187.37 L621.00,1190.88 L622.23,1194.39 L623.46,1197.90 L624.70,1201.39 L625.95,1204.89 L627.20,1208.38 L628.47,1211.86 L629.74,1215.34 L631.02,1218.81 L632.30,1222.27 L633.60,1225.73 L634.90,1229.19 L636.21,1232.63 L637.53,1236.08 L638.86,1239.51 L640.19,1242.94 L641.54,1246.37 L642.89,1249.78 L644.25,1253.20 L645.62,1256.60 L647.00,1260.00 L648.38,1263.39 L649.78,1266.78 L651.18,1270.16 L652.60,1273.53 L654.02,1276.90 L655.45,1280.26 L656.89,1283.61 L658.34,1286.96 L659.80,1290.30 L661.27,1293.64 L662.74,1296.96 L664.23,1300.28 L665.73,1303.60 L667.23,1306.90 L668.75,1310.20 L670.27,1313.49 L671.80,1316.78 L673.35,1320.06 L674.90,1323.33 L676.46,1326.59 L678.04,1329.85 L679.62,1333.09 L681.21,1336.34 L682.82,1339.57 L684.43,1342.80 L686.06,1346.01 L687.69,1349.22 L689.33,1352.43 L690.99,1355.62 L692.66,1358.81 L694.33,1361.99 L696.02,1365.16 L697.72,1368.33 L699.42,1371.48 L701.14,1374.63 L702.87,1377.77 L704.61,1380.90 L706.36,1384.03 L708.13,1387.14 L709.90,1390.25 L711.69,1393.35 L713.48,1396.44 L715.29,1399.52 L717.11,1402.59 L718.94,1405.66 L720.78,1408.71 L722.63,1411.76 L724.50,1414.80 L726.37,1417.83 L728.26,1420.85 L730.16,1423.86 L732.07,1426.86 L734.00,1429.85 L735.93,1432.83 L737.88,1435.80 L739.83,1438.75 L741.80,1441.70 L743.78,1444.63 L745.77,1447.55 L747.77,1450.45 L749.79,1453.34 L751.81,1456.22 L753.85,1459.08 L755.89,1461.92 L757.95,1464.75 L760.02,1467.56 L762.10,1470.36 L764.19,1473.14 L766.29,1475.90 L768.40,1478.64 L770.52,1481.37 L772.65,1484.07 L774.80,1486.76 L776.95,1489.42 L779.12,1492.07 L781.29,1494.69 L783.48,1497.30 L785.67,1499.88 L787.88,1502.44 L790.10,1504.97 L792.32,1507.49 L794.56,1509.98 L796.81,1512.45 L799.07,1514.89 L801.33,1517.30 L803.61,1519.70 L805.90,1522.06 L808.20,1524.40 L810.50,1526.72 L812.82,1529.00 L815.15,1531.26 L817.49,1533.49 L819.83,1535.70 L822.19,1537.87 L824.56,1540.02 L826.94,1542.15 L829.33,1544.24 L831.73,1546.31 L834.15,1548.36 L836.58,1550.38 L839.01,1552.38 L841.47,1554.35 L843.93,1556.29 L846.41,1558.22 L848.90,1560.12 L851.41,1561.99 L853.93,1563.85 L856.47,1565.68 L859.02,1567.49 L861.58,1569.28 L864.16,1571.04 L866.76,1572.79 L869.37,1574.51 L872.00,1576.22 L874.64,1577.90 L877.31,1579.56 L879.98,1581.21 L882.68,1582.83 L885.39,1584.43 L888.12,1586.00 L890.86,1587.54 L893.62,1589.05 L896.38,1590.52 L899.16,1591.95 L901.95,1593.33 L904.75,1594.66 L907.55,1595.95 L910.37,1597.18 L913.18,1598.35 L916.01,1599.46 L918.84,1600.50 L921.67,1601.48 L924.51,1602.38 L927.34,1603.21 L930.18,1603.97 L933.02,1604.64 L935.86,1605.22 L938.69,1605.71 L941.52,1606.12 L944.35,1606.42 L947.17,1606.63 L949.99,1606.75 L952.80,1606.77 L955.60,1606.70 L958.40,1606.54 L961.20,1606.29 L963.99,1605.95 L966.77,1605.53 L969.55,1605.03 L972.32,1604.44 L975.08,1603.78 L977.84,1603.04 L980.60,1602.23 L983.34,1601.34 L986.08,1600.38 L988.81,1599.35 L991.54,1598.26 L994.25,1597.10 L996.97,1595.87 L999.67,1594.59 L1002.37,1593.24 L1005.05,1591.84 L1007.73,1590.38 L1010.41,1588.86 L1013.07,1587.30 L1015.73,1585.68 L1018.38,1584.02 L1021.02,1582.31 L1023.65,1580.55 L1026.27,1578.75 L1028.88,1576.91 L1031.49,1575.03 L1034.09,1573.12 L1036.67,1571.17 L1039.25,1569.18 L1041.82,1567.17 L1044.38,1565.12 L1046.93,1563.05 L1049.47,1560.95 L1052.00,1558.83 L1054.51,1556.68 L1057.02,1554.52 L1059.52,1552.34 L1062.01,1550.14 L1064.49,1547.93 L1066.96,1545.70 L1069.41,1543.46 L1071.86,1541.22 L1074.29,1538.97 L1076.72,1536.71 L1079.13,1534.44 L1081.53,1532.16 L1083.93,1529.88 L1086.31,1527.59 L1088.68,1525.29 L1091.05,1522.99 L1093.40,1520.68 L1095.75,1518.36 L1098.08,1516.03 L1100.41,1513.69 L1102.73,1511.35 L1105.04,1509.00 L1107.35,1506.65 L1109.64,1504.28 L1111.93,1501.91 L1114.21,1499.54 L1116.48,1497.15 L1118.75,1494.76 L1121.01,1492.36 L1123.26,1489.96 L1125.50,1487.55 L1127.74,1485.13 L1129.98,1482.70 L1132.20,1480.27 L1134.42,1477.83 L1136.64,1475.39 L1138.85,1472.94 L1141.06,1470.48 L1143.26,1468.01 L1145.45,1465.54 L1147.64,1463.06 L1149.83,1460.58 L1152.01,1458.09 L1154.19,1455.59 L1156.37,1453.09 L1158.54,1450.58 L1160.71,1448.06 L1162.87,1445.54 L1165.04,1443.01 L1167.20,1440.48 L1169.35,1437.94 L1171.51,1435.39 L1173.66,1432.84 L1175.81,1430.28 L1177.96,1427.71 L1180.11,1425.14 L1182.25,1422.57 L1184.40,1419.99 L1186.54,1417.40 L1188.69,1414.81 L1190.83,1412.22 L1192.97,1409.63 L1195.11,1407.03 L1197.26,1404.42 L1199.40,1401.82 L1201.54,1399.21 L1203.68,1396.60 L1205.82,1393.99 L1207.97,1391.38 L1210.11,1388.77 L1212.26,1386.16 L1214.41,1383.54 L1216.56,1380.93 L1218.71,1378.32 L1220.86,1375.71 L1223.02,1373.09 L1225.17,1370.48 L1227.33,1367.88 L1229.49,1365.27 L1231.66,1362.67 L1233.83,1360.06 L1236.00,1357.47 L1238.17,1354.87 L1240.35,1352.28 L1242.53,1349.69 L1244.72,1347.11 L1246.91,1344.53 L1249.10,1341.96 L1251.30,1339.39 L1253.50,1336.82 L1255.71,1334.27 L1257.92,1331.72 L1260.14,1329.17 L1262.37,1326.63 L1264.59,1324.10 L1266.83,1321.58 L1269.07,1319.06 L1271.32,1316.56 L1273.57,1314.06 L1275.83,1311.57 L1278.09,1309.09 L1280.37,1306.61 L1282.65,1304.15 L1284.93,1301.70 L1287.23,1299.26 L1289.53,1296.83 L1291.84,1294.41 L1294.16,1292.00 L1296.48,1289.60 L1298.82,1287.22 L1301.16,1284.85 L1303.51,1282.49 L1305.87,1280.14 L1308.24,1277.81 L1310.61,1275.49 L1313.00,1273.19 L1315.40,1270.91 L1317.80,1268.65 L1320.21,1266.41 L1322.64,1264.19 L1325.07,1262.00 L1327.51,1259.83 L1329.97,1257.69 L1332.43,1255.57 L1334.90,1253.49 L1337.39,1251.43 L1339.88,1249.41 L1342.38,1247.42 L1344.89,1245.47 L1347.42,1243.55 L1349.95,1241.67 L1352.50,1239.83 L1355.05,1238.03 L1357.62,1236.27 L1360.20,1234.56 L1362.79,1232.89 L1365.39,1231.26 L1368.00,1229.68 L1370.62,1228.15 L1373.26,1226.67 L1375.90,1225.24 L1378.56,1223.86 L1381.23,1222.54 L1383.91,1221.27 L1386.60,1220.06 L1389.31,1218.91 L1392.02,1217.81 L1394.75,1216.78 L1397.49,1215.81 L1400.25,1214.89 L1403.01,1214.04 L1405.79,1213.24 L1408.57,1212.49 L1411.37,1211.80 L1414.17,1211.16 L1416.99,1210.56 L1419.81,1210.02 L1422.65,1209.53 L1425.49,1209.08 L1428.34,1208.68 L1431.20,1208.31 L1434.06,1207.99 L1436.94,1207.71 L1439.82,1207.47 L1442.70,1207.27 L1445.59,1207.10 L1448.49,1206.97 L1451.39,1206.87 L1454.30,1206.80 L1457.21,1206.76 L1460.13,1206.75 L1463.05,1206.76 L1465.97,1206.80 L1468.90,1206.87 L1471.83,1206.96 L1474.76,1207.07 L1477.70,1207.20 L1480.63,1207.35 L1483.57,1207.51 L1486.51,1207.69 L1489.45,1207.88 L1492.38,1208.09 L1495.32,1208.31 L1498.26,1208.54 L1501.20,1208.77 L1504.14,1209.01 L1507.07,1209.26 L1510.00,1209.51 L1512.94,1209.77 L1515.86,1210.02 L1518.79,1210.28 L1521.71,1210.53 L1524.63,1210.78 L1527.54,1211.02 L1530.45,1211.26 L1533.36,1211.49 L1536.26,1211.71 L1539.15,1211.92 L1542.04,1212.12 L1544.93,1212.30 L1547.80,1212.47 L1550.67,1212.62 L1553.53,1212.76 L1556.39,1212.87 L1559.24,1212.97 L1562.07,1213.04 L1564.90,1213.09 L1567.73,1213.11 L1570.54,1213.11 L1573.34,1213.08 L1576.13,1213.02 L1578.91,1212.92" fill="none" stroke="#ff0000" stroke-opacity="0.28" stroke-width="12.5" stroke-linejoin="round" stroke-linecap="butt"/><path d="M323.35,341.33 L324.01,338.11 L324.68,334.81 L325.36,331.43 L326.06,327.97 L326.79,324.44 L327.56,320.83 L328.37,317.15 L329.23,313.41 L330.15,309.61 L331.13,305.75 L332.19,301.83 L333.32,297.86 L334.55,293.85 L335.86,289.84 L337.26,285.86 L338.76,281.96 L340.36,278.16 L342.05,274.52 L343.85,271.07 L345.75,267.84 L347.76,264.88 L349.89,262.22 L352.12,259.90 L354.44,257.94 L356.83,256.36 L359.27,255.19 L361.75,254.44 L364.23,254.13 L366.70,254.29 L369.15,254.95 L371.54,256.08 L373.89,257.63 L376.18,259.52 L378.41,261.70 L380.56,264.08 L382.64,266.61 L384.65,269.25 L386.58,271.97 L388.44,274.80 L390.23,277.71 L391.96,280.70 L393.62,283.77 L395.22,286.93 L396.76,290.15 L398.25,293.44 L399.69,296.80 L401.08,300.21 L402.42,303.68 L403.72,307.21 L404.98,310.78 L406.20,314.39 L407.39,318.05 L408.55,321.74 L409.67,325.46 L410.77,329.21 L411.84,332.98 L412.90,336.77 L413.94,340.57 L414.96,344.39 L415.97,348.21 L416.96,352.04 L417.96,355.87 L418.94,359.69 L419.93,363.50 L420.92,367.30 L421.90,371.09 L422.89,374.88 L423.87,378.65 L424.85,382.42 L425.83,386.18 L426.81,389.93 L427.79,393.67 L428.76,397.41 L429.74,401.13 L430.71,404.86 L431.68,408.57 L432.65,412.28 L433.62,415.98 L434.58,419.68 L435.55,423.37 L436.51,427.06 L437.47,430.74 L438.43,434.42 L439.39,438.09 L440.34,441.76 L441.29,445.43 L442.24,449.09 L443.19,452.75 L444.14,456.41 L445.08,460.06 L446.02,463.71 L446.96,467.36 L447.90,471.00 L448.83,474.65 L449.77,478.29 L450.69,481.94 L451.62,485.58 L452.54,489.22 L453.46,492.86 L454.38,496.50 L455.30,500.14 L456.21,503.78 L457.12,507.43 L458.02,511.07 L458.93,514.71 L459.83,518.36 L460.72,522.01 L461.62,525.66 L462.51,529.31 L463.39,532.97 L464.28,536.63 L465.16,540.29 L466.03,543.96 L466.91,547.63 L467.78,551.30 L468.64,554.98 L469.51,558.66 L470.37,562.34 L471.22,566.03 L472.08,569.72 L472.93,573.41 L473.78,577.10 L474.62,580.80 L475.46,584.50 L476.30,588.21 L477.14,591.92 L477.97,595.63 L478.80,599.34 L479.63,603.06 L480.46,606.78 L481.28,610.50 L482.11,614.22 L482.93,617.95 L483.74,621.68 L484.56,625.41 L485.37,629.14 L486.18,632.88 L486.99,636.62 L487.80,640.36 L488.60,644.10 L489.41,647.85 L490.21,651.59 L491.01,655.34 L491.81,659.10 L492.61,662.85 L493.40,666.60 L494.20,670.36 L494.99,674.12 L495.78,677.88 L496.57,681.64 L497.36,685.41 L498.15,689.17 L498.94,692.94 L499.73,696.71 L500.51,700.48 L501.30,704.25 L502.08,708.02 L502.87,711.80 L503.65,715.57 L504.43,719.35 L505.21,723.13 L505.99,726.90 L506.77,730.68 L507.56,734.46 L508.34,738.25 L509.12,742.03 L509.90,745.81 L510.68,749.60 L511.46,753.38 L512.24,757.17 L513.02,760.95 L513.80,764.74 L514.58,768.53 L515.36,772.31 L516.14,776.10 L516.92,779.89 L517.70,783.68 L518.49,787.47 L519.27,791.26 L520.05,795.05 L520.84,798.84 L521.63,802.63 L522.41,806.42 L523.20,810.21 L523.99,814.00 L524.78,817.79 L525.57,821.58 L526.36,825.37 L527.15,829.15 L527.95,832.94 L528.74,836.73 L529.54,840.52 L530.34,844.31 L531.14,848.09 L531.94,851.88 L532.74,855.66 L533.55,859.45 L534.36,863.23 L535.17,867.02 L535.98,870.80 L536.79,874.58 L537.60,878.36 L538.42,882.14 L539.24,885.92 L540.06,889.70 L540.89,893.47 L541.71,897.25 L542.54,901.02 L543.37,904.79 L544.21,908.56 L545.04,912.33 L545.88,916.10 L546.72,919.87 L547.57,923.63 L548.41,927.40 L549.26,931.16 L550.12,934.92 L550.97,938.68 L551.83,942.44 L552.70,946.19 L553.56,949.94 L554.43,953.69 L555.30,957.44 L556.18,961.19 L557.06,964.94 L557.94,968.68 L558.83,972.42 L559.72,976.16 L560.61,979.89 L561.51,983.63 L562.41,987.36 L563.32,991.09 L564.23,994.81 L565.14,998.54 L566.06,1002.26 L566.98,1005.97 L567.91,1009.69 L568.84,1013.40 L569.77,1017.11 L570.71,1020.82 L571.65,1024.52 L572.60,1028.23 L573.56,1031.92 L574.51,1035.62 L575.48,1039.31 L576.44,1043.00 L577.41,1046.69 L578.39,1050.37 L579.37,1054.05 L580.36,1057.72 L581.35,1061.39 L582.35,1065.06 L583.35,1068.73 L584.36,1072.39 L585.37,1076.05 L586.39,1079.70 L587.42,1083.35 L588.45,1087.00 L589.48,1090.64 L590.52,1094.28 L591.57,1097.92 L592.62,1101.55 L593.68,1105.17 L594.74,1108.80 L595.81,1112.42 L596.89,1116.03 L597.97,1119.64 L599.06,1123.25 L600.16,1126.85 L601.26,1130.45 L602.36,1134.04 L603.48,1137.63 L604.60,1141.21 L605.73,1144.79 L606.86,1148.37 L608.00,1151.94 L609.15,1155.50 L610.30,1159.06 L611.46,1162.62 L612.63,1166.17 L613.80,1169.71 L614.98,1173.25 L616.17,1176.79 L617.37,1180.32 L618.57,1183.85 L619.78,1187.37 L621.00,1190.88 L622.23,1194.39 L623.46,1197.90 L624.70,1201.39 L625.95,1204.89 L627.20,1208.38 L628.47,1211.86 L629.74,1215.34 L631.02,1218.81 L632.30,1222.27 L633.60,1225.73 L634.90,1229.19 L636.21,1232.63 L637.53,1236.08 L638.86,1239.51 L640.19,1242.94 L641.54,1246.37 L642.89,1249.78 L644.25,1253.20 L645.62,1256.60 L647.00,1260.00 L648.38,1263.39 L649.78,1266.78 L651.18,1270.16 L652.60,1273.53 L654.02,1276.90 L655.45,1280.26 L656.89,1283.61 L658.34,1286.96 L659.80,1290.30 L661.27,1293.64 L662.74,1296.96 L664.23,1300.28 L665.73,1303.60 L667.23,1306.90 L668.75,1310.20 L670.27,1313.49 L671.80,1316.78 L673.35,1320.06 L674.90,1323.33 L676.46,1326.59 L678.04,1329.85 L679.62,1333.09 L681.21,1336.34 L682.82,1339.57 L684.43,1342.80 L686.06,1346.01 L687.69,1349.22 L689.33,1352.43 L690.99,1355.62 L692.66,1358.81 L694.33,1361.99 L696.02,1365.16 L697.72,1368.33 L699.42,1371.48 L701.14,1374.63 L702.87,1377.77 L704.61,1380.90 L706.36,1384.03 L708.13,1387.14 L709.90,1390.25 L711.69,1393.35 L713.48,1396.44 L715.29,1399.52 L717.11,1402.59 L718.94,1405.66 L720.78,1408.71 L722.63,1411.76 L724.50,1414.80 L726.37,1417.83 L728.26,1420.85 L730.16,1423.86 L732.07,1426.86 L734.00,1429.85 L735.93,1432.83 L737.88,1435.80 L739.83,1438.75 L741.80,1441.70 L743.78,1444.63 L745.77,1447.55 L747.77,1450.45 L749.79,1453.34 L751.81,1456.22 L753.85,1459.08 L755.89,1461.92 L757.95,1464.75 L760.02,1467.56 L762.10,1470.36 L764.19,1473.14 L766.29,1475.90 L768.40,1478.64 L770.52,1481.37 L772.65,1484.07 L774.80,1486.76 L776.95,1489.42 L779.12,1492.07 L781.29,1494.69 L783.48,1497.30 L785.67,1499.88 L787.88,1502.44 L790.10,1504.97 L792.32,1507.49 L794.56,1509.98 L796.81,1512.45 L799.07,1514.89 L801.33,1517.30 L803.61,1519.70 L805.90,1522.06 L808.20,1524.40 L810.50,1526.72 L812.82,1529.00 L815.15,1531.26 L817.49,1533.49 L819.83,1535.70 L822.19,1537.87 L824.56,1540.02 L826.94,1542.15 L829.33,1544.24 L831.73,1546.31 L834.15,1548.36 L836.58,1550.38 L839.01,1552.38 L841.47,1554.35 L843.93,1556.29 L846.41,1558.22 L848.90,1560.12 L851.41,1561.99 L853.93,1563.85 L856.47,1565.68 L859.02,1567.49 L861.58,1569.28 L864.16,1571.04 L866.76,1572.79 L869.37,1574.51 L872.00,1576.22 L874.64,1577.90 L877.31,1579.56 L879.98,1581.21 L882.68,1582.83 L885.39,1584.43 L888.12,1586.00 L890.86,1587.54 L893.62,1589.05 L896.38,1590.52 L899.16,1591.95 L901.95,1593.33 L904.75,1594.66 L907.55,1595.95 L910.37,1597.18 L913.18,1598.35 L916.01,1599.46 L918.84,1600.50 L921.67,1601.48 L924.51,1602.38 L927.34,1603.21 L930.18,1603.97 L933.02,1604.64 L935.86,1605.22 L938.69,1605.71 L941.52,1606.12 L944.35,1606.42 L947.17,1606.63 L949.99,1606.75 L952.80,1606.77 L955.60,1606.70 L958.40,1606.54 L961.20,1606.29 L963.99,1605.95 L966.77,1605.53 L969.55,1605.03 L972.32,1604.44 L975.08,1603.78 L977.84,1603.04 L980.60,1602.23 L983.34,1601.34 L986.08,1600.38 L988.81,1599.35 L991.54,1598.26 L994.25,1597.10 L996.97,1595.87 L999.67,1594.59 L1002.37,1593.24 L1005.05,1591.84 L1007.73,1590.38 L1010.41,1588.86 L1013.07,1587.30 L1015.73,1585.68 L1018.38,1584.02 L1021.02,1582.31 L1023.65,1580.55 L1026.27,1578.75 L1028.88,1576.91 L1031.49,1575.03 L1034.09,1573.12 L1036.67,1571.17 L1039.25,1569.18 L1041.82,1567.17 L1044.38,1565.12 L1046.93,1563.05 L1049.47,1560.95 L1052.00,1558.83 L1054.51,1556.68 L1057.02,1554.52 L1059.52,1552.34 L1062.01,1550.14 L1064.49,1547.93 L1066.96,1545.70 L1069.41,1543.46 L1071.86,1541.22 L1074.29,1538.97 L1076.72,1536.71 L1079.13,1534.44 L1081.53,1532.16 L1083.93,1529.88 L1086.31,1527.59 L1088.68,1525.29 L1091.05,1522.99 L1093.40,1520.68 L1095.75,1518.36 L1098.08,1516.03 L1100.41,1513.69 L1102.73,1511.35 L1105.04,1509.00 L1107.35,1506.65 L1109.64,1504.28 L1111.93,1501.91 L1114.21,1499.54 L1116.48,1497.15 L1118.75,1494.76 L1121.01,1492.36 L1123.26,1489.96 L1125.50,1487.55 L1127.74,1485.13 L1129.98,1482.70 L1132.20,1480.27 L1134.42,1477.83 L1136.64,1475.39 L1138.85,1472.94 L1141.06,1470.48 L1143.26,1468.01 L1145.45,1465.54 L1147.64,1463.06 L1149.83,1460.58 L1152.01,1458.09 L1154.19,1455.59 L1156.37,1453.09 L1158.54,1450.58 L1160.71,1448.06 L1162.87,1445.54 L1165.04,1443.01 L1167.20,1440.48 L1169.35,1437.94 L1171.51,1435.39 L1173.66,1432.84 L1175.81,1430.28 L1177.96,1427.71 L1180.11,1425.14 L1182.25,1422.57 L1184.40,1419.99 L1186.54,1417.40 L1188.69,1414.81 L1190.83,1412.22 L1192.97,1409.63 L1195.11,1407.03 L1197.26,1404.42 L1199.40,1401.82 L1201.54,1399.21 L1203.68,1396.60 L1205.82,1393.99 L1207.97,1391.38 L1210.11,1388.77 L1212.26,1386.16 L1214.41,1383.54 L1216.56,1380.93 L1218.71,1378.32 L1220.86,1375.71 L1223.02,1373.09 L1225.17,1370.48 L1227.33,1367.88 L1229.49,1365.27 L1231.66,1362.67 L1233.83,1360.06 L1236.00,1357.47 L1238.17,1354.87 L1240.35,1352.28 L1242.53,1349.69 L1244.72,1347.11 L1246.91,1344.53 L1249.10,1341.96 L1251.30,1339.39 L1253.50,1336.82 L1255.71,1334.27 L1257.92,1331.72 L1260.14,1329.17 L1262.37,1326.63 L1264.59,1324.10 L1266.83,1321.58 L1269.07,1319.06 L1271.32,1316.56 L1273.57,1314.06 L1275.83,1311.57 L1278.09,1309.09 L1280.37,1306.61 L1282.65,1304.15 L1284.93,1301.70 L1287.23,1299.26 L1289.53,1296.83 L1291.84,1294.41 L1294.16,1292.00 L1296.48,1289.60 L1298.82,1287.22 L1301.16,1284.85 L1303.51,1282.49 L1305.87,1280.14 L1308.24,1277.81 L1310.61,1275.49 L1313.00,1273.19 L1315.40,1270.91 L1317.80,1268.65 L1320.21,1266.41 L1322.64,1264.19 L1325.07,1262.00 L1327.51,1259.83 L1329.97,1257.69 L1332.43,1255.57 L1334.90,1253.49 L1337.39,1251.43 L1339.88,1249.41 L1342.38,1247.42 L1344.89,1245.47 L1347.42,1243.55 L1349.95,1241.67 L1352.50,1239.83 L1355.05,1238.03 L1357.62,1236.27 L1360.20,1234.56 L1362.79,1232.89 L1365.39,1231.26 L1368.00,1229.68 L1370.62,1228.15 L1373.26,1226.67 L1375.90,1225.24 L1378.56,1223.86 L1381.23,1222.54 L1383.91,1221.27 L1386.60,1220.06 L1389.31,1218.91 L1392.02,1217.81 L1394.75,1216.78 L1397.49,1215.81 L1400.25,1214.89 L1403.01,1214.04 L1405.79,1213.24 L1408.57,1212.49 L1411.37,1211.80 L1414.17,1211.16 L1416.99,1210.56 L1419.81,1210.02 L1422.65,1209.53 L1425.49,1209.08 L1428.34,1208.68 L1431.20,1208.31 L1434.06,1207.99 L1436.94,1207.71 L1439.82,1207.47 L1442.70,1207.27 L1445.59,1207.10 L1448.49,1206.97 L1451.39,1206.87 L1454.30,1206.80 L1457.21,1206.76 L1460.13,1206.75 L1463.05,1206.76 L1465.97,1206.80 L1468.90,1206.87 L1471.83,1206.96 L1474.76,1207.07 L1477.70,1207.20 L1480.63,1207.35 L1483.57,1207.51 L1486.51,1207.69 L1489.45,1207.88 L1492.38,1208.09 L1495.32,1208.31 L1498.26,1208.54 L1501.20,1208.77 L1504.14,1209.01 L1507.07,1209.26 L1510.00,1209.51 L1512.94,1209.77 L1515.86,1210.02 L1518.79,1210.28 L1521.71,1210.53 L1524.63,1210.78 L1527.54,1211.02 L1530.45,1211.26 L1533.36,1211.49 L1536.26,1211.71 L1539.15,1211.92 L1542.04,1212.12 L1544.93,1212.30 L1547.80,1212.47 L1550.67,1212.62 L1553.53,1212.76 L1556.39,1212.87 L1559.24,1212.97 L1562.07,1213.04 L1564.90,1213.09 L1567.73,1213.11 L1570.54,1213.11 L1573.34,1213.08 L1576.13,1213.02 L1578.91,1212.92" fill="none" stroke="#ff0000" stroke-width="8.5" stroke-linejoin="round" stroke-linecap="butt"/>
<path d="M323.50,876.41 L325.05,878.29 L326.60,880.16 L328.14,882.05 L329.69,883.93 L331.23,885.82 L332.78,887.71 L334.32,889.60 L335.86,891.50 L337.41,893.40 L338.95,895.30 L340.49,897.21 L342.03,899.12 L343.56,901.03 L345.10,902.95 L346.64,904.87 L348.17,906.79 L349.70,908.72 L351.23,910.65 L352.76,912.58 L354.29,914.52 L355.82,916.47 L357.34,918.41 L358.86,920.36 L360.38,922.32 L361.90,924.27 L363.41,926.24 L364.93,928.20 L366.44,930.17 L367.95,932.15 L369.45,934.13 L370.96,936.11 L372.46,938.09 L373.96,940.09 L375.45,942.08 L376.95,944.08 L378.44,946.09 L379.92,948.09 L381.41,950.11 L382.89,952.12 L384.36,954.15 L385.84,956.17 L387.31,958.21 L388.77,960.24 L390.24,962.28 L391.70,964.33 L393.15,966.38 L394.61,968.43 L396.05,970.49 L397.50,972.56 L398.94,974.63 L400.38,976.70 L401.81,978.78 L403.24,980.87 L404.66,982.96 L406.08,985.05 L407.49,987.16 L408.90,989.26 L410.31,991.37 L411.71,993.49 L413.10,995.61 L414.50,997.74 L415.88,999.87 L417.26,1002.01 L418.64,1004.15 L420.01,1006.30 L421.37,1008.46 L422.73,1010.62 L424.09,1012.78 L425.44,1014.96 L426.78,1017.13 L428.12,1019.32 L429.45,1021.51 L430.78,1023.70 L432.10,1025.90 L433.41,1028.11 L434.72,1030.33 L436.02,1032.55 L437.32,1034.77 L438.61,1037.00 L439.89,1039.24 L441.17,1041.48 L442.44,1043.74 L443.70,1045.99 L444.96,1048.25 L446.21,1050.52 L447.46,1052.80 L448.69,1055.08 L449.92,1057.37 L451.15,1059.67 L452.37,1061.97 L453.58,1064.27 L454.78,1066.58 L455.98,1068.90 L457.18,1071.22 L458.36,1073.55 L459.55,1075.88 L460.72,1078.22 L461.89,1080.56 L463.06,1082.90 L464.22,1085.25 L465.38,1087.61 L466.53,1089.97 L467.68,1092.33 L468.82,1094.69 L469.96,1097.06 L471.09,1099.43 L472.22,1101.81 L473.34,1104.19 L474.47,1106.57 L475.58,1108.96 L476.70,1111.34 L477.81,1113.73 L478.91,1116.12 L480.02,1118.52 L481.12,1120.91 L482.21,1123.31 L483.31,1125.71 L484.40,1128.11 L485.49,1130.51 L486.57,1132.92 L487.65,1135.32 L488.73,1137.73 L489.81,1140.13 L490.89,1142.54 L491.96,1144.95 L493.04,1147.35 L494.11,1149.76 L495.18,1152.17 L496.25,1154.58 L497.31,1156.98 L498.38,1159.39 L499.44,1161.80 L500.50,1164.20 L501.57,1166.61 L502.63,1169.01 L503.69,1171.41 L504.75,1173.81 L505.81,1176.21 L506.87,1178.61 L507.94,1181.01 L509.00,1183.41 L510.06,1185.81 L511.13,1188.20 L512.20,1190.60 L513.27,1193.00 L514.34,1195.39 L515.41,1197.78 L516.49,1200.18 L517.57,1202.57 L518.65,1204.96 L519.74,1207.35 L520.83,1209.74 L521.92,1212.13 L523.02,1214.52 L524.13,1216.91 L525.23,1219.30 L526.35,1221.69 L527.47,1224.07 L528.59,1226.46 L529.72,1228.85 L530.85,1231.23 L532.00,1233.62 L533.14,1236.00 L534.30,1238.39 L535.46,1240.77 L536.63,1243.16 L537.81,1245.54 L538.99,1247.92 L540.18,1250.30 L541.38,1252.68 L542.59,1255.06 L543.80,1257.43 L545.02,1259.80 L546.25,1262.17 L547.49,1264.53 L548.73,1266.89 L549.98,1269.24 L551.24,1271.59 L552.51,1273.93 L553.78,1276.27 L555.06,1278.60 L556.35,1280.92 L557.65,1283.24 L558.95,1285.54 L560.26,1287.85 L561.58,1290.14 L562.91,1292.42 L564.25,1294.70 L565.59,1296.97 L566.94,1299.22 L568.30,1301.47 L569.67,1303.71 L571.04,1305.93 L572.43,1308.14 L573.82,1310.35 L575.22,1312.54 L576.63,1314.72 L578.04,1316.88 L579.47,1319.03 L580.90,1321.17 L582.34,1323.30 L583.79,1325.41 L585.24,1327.51 L586.71,1329.59 L588.18,1331.65 L589.67,1333.70 L591.16,1335.74 L592.66,1337.76 L594.16,1339.76 L595.68,1341.74 L597.21,1343.71 L598.74,1345.66 L600.28,1347.59 L601.83,1349.50 L603.39,1351.39 L604.96,1353.26 L606.54,1355.11 L608.12,1356.94 L609.72,1358.76 L611.32,1360.55 L612.93,1362.31 L614.56,1364.06 L616.19,1365.79 L617.83,1367.49 L619.47,1369.17 L621.13,1370.82 L622.80,1372.46 L624.47,1374.07 L626.16,1375.65 L627.85,1377.21 L629.55,1378.74 L631.27,1380.25 L632.99,1381.73 L634.72,1383.19 L636.46,1384.62 L638.21,1386.02 L639.97,1387.39 L641.73,1388.74 L643.51,1390.06 L645.30,1391.35 L647.10,1392.61 L648.90,1393.84 L650.72,1395.04 L652.54,1396.21 L654.38,1397.36 L656.22,1398.47 L658.08,1399.54 L659.94,1400.59 L661.81,1401.61 L663.70,1402.59 L665.59,1403.54 L667.49,1404.46 L669.41,1405.35 L671.33,1406.20 L673.26,1407.03 L675.20,1407.83 L677.14,1408.59 L679.10,1409.33 L681.06,1410.04 L683.04,1410.72 L685.02,1411.37 L687.00,1412.00 L689.00,1412.60 L691.00,1413.17 L693.01,1413.72 L695.03,1414.24 L697.06,1414.73 L699.09,1415.20 L701.12,1415.65 L703.17,1416.07 L705.22,1416.47 L707.27,1416.85 L709.34,1417.21 L711.40,1417.54 L713.48,1417.85 L715.56,1418.14 L717.64,1418.41 L719.73,1418.65 L721.82,1418.88 L723.92,1419.09 L726.02,1419.28 L728.13,1419.45 L730.24,1419.61 L732.36,1419.74 L734.48,1419.86 L736.60,1419.97 L738.73,1420.05 L740.85,1420.12 L742.99,1420.18 L745.12,1420.22 L747.26,1420.24 L749.40,1420.25 L751.54,1420.25 L753.69,1420.23 L755.84,1420.20 L757.99,1420.16 L760.14,1420.11 L762.29,1420.05 L764.44,1419.97 L766.60,1419.88 L768.76,1419.79 L770.91,1419.68 L773.07,1419.57 L775.23,1419.44 L777.39,1419.31 L779.55,1419.17 L781.71,1419.02 L783.86,1418.87 L786.02,1418.71 L788.18,1418.54 L790.34,1418.37 L792.49,1418.19 L794.65,1418.01 L796.80,1417.82 L798.96,1417.63 L801.11,1417.43 L803.26,1417.24 L805.40,1417.04 L807.55,1416.83 L809.69,1416.63 L811.83,1416.42 L813.97,1416.22 L816.11,1416.01 L818.24,1415.80 L820.37,1415.59 L822.49,1415.39 L824.62,1415.18 L826.74,1414.97 L828.86,1414.76 L830.98,1414.54 L833.09,1414.33 L835.20,1414.11 L837.31,1413.90 L839.41,1413.68 L841.52,1413.46 L843.62,1413.23 L845.72,1413.00 L847.81,1412.77 L849.91,1412.54 L852.00,1412.31 L854.09,1412.07 L856.18,1411.83 L858.26,1411.58 L860.35,1411.33 L862.43,1411.07 L864.51,1410.82 L866.58,1410.55 L868.66,1410.28 L870.73,1410.01 L872.80,1409.73 L874.87,1409.45 L876.94,1409.16 L879.01,1408.87 L881.07,1408.57 L883.13,1408.26 L885.19,1407.95 L887.25,1407.63 L889.31,1407.31 L891.37,1406.97 L893.42,1406.64 L895.47,1406.29 L897.53,1405.94 L899.58,1405.58 L901.63,1405.21 L903.67,1404.83 L905.72,1404.45 L907.77,1404.05 L909.81,1403.65 L911.85,1403.24 L913.89,1402.82 L915.94,1402.40 L917.97,1401.96 L920.01,1401.51 L922.05,1401.06 L924.09,1400.59 L926.12,1400.12 L928.16,1399.63 L930.19,1399.14 L932.23,1398.63 L934.26,1398.11 L936.29,1397.58 L938.32,1397.05 L940.35,1396.50 L942.39,1395.93 L944.42,1395.36 L946.44,1394.78 L948.47,1394.18 L950.50,1393.57 L952.53,1392.95 L954.55,1392.32 L956.58,1391.68 L958.61,1391.03 L960.63,1390.36 L962.65,1389.69 L964.68,1389.01 L966.70,1388.31 L968.72,1387.60 L970.74,1386.89 L972.76,1386.16 L974.77,1385.42 L976.79,1384.67 L978.81,1383.91 L980.82,1383.15 L982.83,1382.37 L984.85,1381.58 L986.86,1380.78 L988.86,1379.97 L990.87,1379.16 L992.88,1378.33 L994.88,1377.49 L996.89,1376.65 L998.89,1375.79 L1000.89,1374.93 L1002.89,1374.06 L1004.89,1373.18 L1006.88,1372.28 L1008.88,1371.39 L1010.87,1370.48 L1012.86,1369.56 L1014.85,1368.63 L1016.84,1367.70 L1018.82,1366.76 L1020.81,1365.81 L1022.79,1364.85 L1024.77,1363.88 L1026.74,1362.91 L1028.72,1361.92 L1030.69,1360.93 L1032.66,1359.94 L1034.63,1358.93 L1036.60,1357.92 L1038.57,1356.89 L1040.53,1355.87 L1042.49,1354.83 L1044.45,1353.79 L1046.40,1352.74 L1048.36,1351.68 L1050.31,1350.62 L1052.26,1349.55 L1054.21,1348.48 L1056.16,1347.40 L1058.10,1346.31 L1060.04,1345.22 L1061.99,1344.12 L1063.93,1343.02 L1065.86,1341.91 L1067.80,1340.80 L1069.74,1339.68 L1071.67,1338.56 L1073.60,1337.43 L1075.53,1336.30 L1077.46,1335.16 L1079.39,1334.03 L1081.32,1332.88 L1083.24,1331.74 L1085.17,1330.59 L1087.09,1329.44 L1089.01,1328.28 L1090.94,1327.13 L1092.86,1325.97 L1094.78,1324.81 L1096.70,1323.64 L1098.61,1322.48 L1100.53,1321.31 L1102.45,1320.14 L1104.37,1318.97 L1106.28,1317.79 L1108.20,1316.62 L1110.11,1315.45 L1112.03,1314.27 L1113.94,1313.10 L1115.85,1311.92 L1117.77,1310.74 L1119.68,1309.57 L1121.60,1308.39 L1123.51,1307.22 L1125.42,1306.04 L1127.33,1304.87 L1129.25,1303.69 L1131.16,1302.52 L1133.07,1301.35 L1134.99,1300.18 L1136.90,1299.01 L1138.82,1297.85 L1140.73,1296.68 L1142.65,1295.52 L1144.56,1294.36 L1146.48,1293.20 L1148.39,1292.05 L1150.31,1290.90 L1152.23,1289.75 L1154.15,1288.60 L1156.06,1287.46 L1157.98,1286.32 L1159.90,1285.19 L1161.83,1284.06 L1163.75,1282.93 L1165.67,1281.81 L1167.60,1280.69 L1169.52,1279.58 L1171.45,1278.47 L1173.38,1277.37 L1175.31,1276.27 L1177.24,1275.18 L1179.17,1274.09 L1181.10,1273.01 L1183.04,1271.93 L1184.97,1270.86 L1186.91,1269.80 L1188.85,1268.74 L1190.79,1267.69 L1192.73,1266.65 L1194.68,1265.62 L1196.62,1264.59 L1198.57,1263.57 L1200.52,1262.55 L1202.47,1261.55 L1204.42,1260.55 L1206.38,1259.56 L1208.34,1258.58 L1210.30,1257.60 L1212.26,1256.64 L1214.22,1255.68 L1216.19,1254.74 L1218.16,1253.80 L1220.13,1252.87 L1222.10,1251.95 L1224.08,1251.04 L1226.06,1250.14 L1228.04,1249.26 L1230.02,1248.38 L1232.01,1247.51 L1234.00,1246.65 L1235.99,1245.80 L1237.99,1244.97 L1239.98,1244.14 L1241.98,1243.33 L1243.99,1242.53 L1245.99,1241.74 L1248.00,1240.96 L1250.01,1240.19 L1252.03,1239.43 L1254.05,1238.68 L1256.07,1237.94 L1258.09,1237.22 L1260.11,1236.50 L1262.14,1235.80 L1264.17,1235.10 L1266.20,1234.42 L1268.24,1233.74 L1270.27,1233.08 L1272.31,1232.43 L1274.35,1231.78 L1276.40,1231.15 L1278.44,1230.53 L1280.49,1229.91 L1282.54,1229.31 L1284.59,1228.71 L1286.64,1228.13 L1288.70,1227.55 L1290.76,1226.99 L1292.82,1226.43 L1294.88,1225.89 L1296.94,1225.35 L1299.01,1224.82 L1301.07,1224.30 L1303.14,1223.79 L1305.21,1223.29 L1307.28,1222.80 L1309.36,1222.32 L1311.43,1221.84 L1313.51,1221.38 L1315.59,1220.92 L1317.66,1220.47 L1319.74,1220.03 L1321.83,1219.60 L1323.91,1219.18 L1325.99,1218.77 L1328.08,1218.36 L1330.16,1217.96 L1332.25,1217.57 L1334.34,1217.19 L1336.43,1216.82 L1338.52,1216.45 L1340.61,1216.09 L1342.71,1215.74 L1344.80,1215.40 L1346.89,1215.06 L1348.99,1214.74 L1351.08,1214.42 L1353.18,1214.10 L1355.28,1213.80 L1357.37,1213.50 L1359.47,1213.21 L1361.57,1212.93 L1363.67,1212.65 L1365.77,1212.38 L1367.87,1212.12 L1369.97,1211.86 L1372.07,1211.61 L1374.17,1211.37 L1376.28,1211.14 L1378.38,1210.91 L1380.48,1210.68 L1382.58,1210.47 L1384.68,1210.26 L1386.79,1210.05 L1388.89,1209.86 L1390.99,1209.66 L1393.09,1209.48 L1395.19,1209.30 L1397.30,1209.13 L1399.40,1208.96 L1401.50,1208.80 L1403.60,1208.64 L1405.70,1208.49 L1407.80,1208.35 L1409.90,1208.21 L1412.00,1208.07 L1414.10,1207.94 L1416.20,1207.82 L1418.30,1207.70 L1420.40,1207.59 L1422.49,1207.48 L1424.59,1207.38 L1426.69,1207.28 L1428.78,1207.19 L1430.88,1207.10 L1432.97,1207.02 L1435.06,1206.94 L1437.15,1206.86 L1439.24,1206.79 L1441.33,1206.73 L1443.42,1206.67 L1445.51,1206.61 L1447.60,1206.56 L1449.69,1206.52 L1451.77,1206.47 L1453.86,1206.44 L1455.94,1206.41 L1458.03,1206.38 L1460.11,1206.36 L1462.19,1206.34 L1464.28,1206.33 L1466.36,1206.33 L1468.44,1206.33 L1470.52,1206.33 L1472.61,1206.34 L1474.69,1206.36 L1476.77,1206.38 L1478.85,1206.41 L1480.93,1206.44 L1483.01,1206.48 L1485.09,1206.52 L1487.17,1206.57 L1489.25,1206.63 L1491.33,1206.69 L1493.42,1206.76 L1495.50,1206.83 L1497.58,1206.91 L1499.66,1206.99 L1501.74,1207.09 L1503.82,1207.18 L1505.91,1207.29 L1507.99,1207.40 L1510.07,1207.51 L1512.16,1207.64 L1514.24,1207.76 L1516.33,1207.90 L1518.41,1208.04 L1520.50,1208.19 L1522.58,1208.35 L1524.67,1208.51 L1526.76,1208.68 L1528.85,1208.85 L1530.94,1209.03 L1533.03,1209.22 L1535.12,1209.42 L1537.21,1209.62 L1539.31,1209.83 L1541.40,1210.05 L1543.50,1210.27 L1545.59,1210.50 L1547.69,1210.74 L1549.79,1210.99 L1551.89,1211.24 L1553.99,1211.50 L1556.09,1211.77 L1558.20,1212.04 L1560.30,1212.33 L1562.41,1212.62 L1564.52,1212.91 L1566.63,1213.22 L1568.74,1213.53 L1570.85,1213.85 L1572.96,1214.18 L1575.08,1214.52 L1577.20,1214.86 L1579.32,1215.22" fill="none" stroke="#00ff00" stroke-opacity="0.28" stroke-width="12.0" stroke-linejoin="round" stroke-linecap="butt"/><path d="M323.50,876.41 L325.05,878.29 L326.60,880.16 L328.14,882.05 L329.69,883.93 L331.23,885.82 L332.78,887.71 L334.32,889.60 L335.86,891.50 L337.41,893.40 L338.95,895.30 L340.49,897.21 L342.03,899.12 L343.56,901.03 L345.10,902.95 L346.64,904.87 L348.17,906.79 L349.70,908.72 L351.23,910.65 L352.76,912.58 L354.29,914.52 L355.82,916.47 L357.34,918.41 L358.86,920.36 L360.38,922.32 L361.90,924.27 L363.41,926.24 L364.93,928.20 L366.44,930.17 L367.95,932.15 L369.45,934.13 L370.96,936.11 L372.46,938.09 L373.96,940.09 L375.45,942.08 L376.95,944.08 L378.44,946.09 L379.92,948.09 L381.41,950.11 L382.89,952.12 L384.36,954.15 L385.84,956.17 L387.31,958.21 L388.77,960.24 L390.24,962.28 L391.70,964.33 L393.15,966.38 L394.61,968.43 L396.05,970.49 L397.50,972.56 L398.94,974.63 L400.38,976.70 L401.81,978.78 L403.24,980.87 L404.66,982.96 L406.08,985.05 L407.49,987.16 L408.90,989.26 L410.31,991.37 L411.71,993.49 L413.10,995.61 L414.50,997.74 L415.88,999.87 L417.26,1002.01 L418.64,1004.15 L420.01,1006.30 L421.37,1008.46 L422.73,1010.62 L424.09,1012.78 L425.44,1014.96 L426.78,1017.13 L428.12,1019.32 L429.45,1021.51 L430.78,1023.70 L432.10,1025.90 L433.41,1028.11 L434.72,1030.33 L436.02,1032.55 L437.32,1034.77 L438.61,1037.00 L439.89,1039.24 L441.17,1041.48 L442.44,1043.74 L443.70,1045.99 L444.96,1048.25 L446.21,1050.52 L447.46,1052.80 L448.69,1055.08 L449.92,1057.37 L451.15,1059.67 L452.37,1061.97 L453.58,1064.27 L454.78,1066.58 L455.98,1068.90 L457.18,1071.22 L458.36,1073.55 L459.55,1075.88 L460.72,1078.22 L461.89,1080.56 L463.06,1082.90 L464.22,1085.25 L465.38,1087.61 L466.53,1089.97 L467.68,1092.33 L468.82,1094.69 L469.96,1097.06 L471.09,1099.43 L472.22,1101.81 L473.34,1104.19 L474.47,1106.57 L475.58,1108.96 L476.70,1111.34 L477.81,1113.73 L478.91,1116.12 L480.02,1118.52 L481.12,1120.91 L482.21,1123.31 L483.31,1125.71 L484.40,1128.11 L485.49,1130.51 L486.57,1132.92 L487.65,1135.32 L488.73,1137.73 L489.81,1140.13 L490.89,1142.54 L491.96,1144.95 L493.04,1147.35 L494.11,1149.76 L495.18,1152.17 L496.25,1154.58 L497.31,1156.98 L498.38,1159.39 L499.44,1161.80 L500.50,1164.20 L501.57,1166.61 L502.63,1169.01 L503.69,1171.41 L504.75,1173.81 L505.81,1176.21 L506.87,1178.61 L507.94,1181.01 L509.00,1183.41 L510.06,1185.81 L511.13,1188.20 L512.20,1190.60 L513.27,1193.00 L514.34,1195.39 L515.41,1197.78 L516.49,1200.18 L517.57,1202.57 L518.65,1204.96 L519.74,1207.35 L520.83,1209.74 L521.92,1212.13 L523.02,1214.52 L524.13,1216.91 L525.23,1219.30 L526.35,1221.69 L527.47,1224.07 L528.59,1226.46 L529.72,1228.85 L530.85,1231.23 L532.00,1233.62 L533.14,1236.00 L534.30,1238.39 L535.46,1240.77 L536.63,1243.16 L537.81,1245.54 L538.99,1247.92 L540.18,1250.30 L541.38,1252.68 L542.59,1255.06 L543.80,1257.43 L545.02,1259.80 L546.25,1262.17 L547.49,1264.53 L548.73,1266.89 L549.98,1269.24 L551.24,1271.59 L552.51,1273.93 L553.78,1276.27 L555.06,1278.60 L556.35,1280.92 L557.65,1283.24 L558.95,1285.54 L560.26,1287.85 L561.58,1290.14 L562.91,1292.42 L564.25,1294.70 L565.59,1296.97 L566.94,1299.22 L568.30,1301.47 L569.67,1303.71 L571.04,1305.93 L572.43,1308.14 L573.82,1310.35 L575.22,1312.54 L576.63,1314.72 L578.04,1316.88 L579.47,1319.03 L580.90,1321.17 L582.34,1323.30 L583.79,1325.41 L585.24,1327.51 L586.71,1329.59 L588.18,1331.65 L589.67,1333.70 L591.16,1335.74 L592.66,1337.76 L594.16,1339.76 L595.68,1341.74 L597.21,1343.71 L598.74,1345.66 L600.28,1347.59 L601.83,1349.50 L603.39,1351.39 L604.96,1353.26 L606.54,1355.11 L608.12,1356.94 L609.72,1358.76 L611.32,1360.55 L612.93,1362.31 L614.56,1364.06 L616.19,1365.79 L617.83,1367.49 L619.47,1369.17 L621.13,1370.82 L622.80,1372.46 L624.47,1374.07 L626.16,1375.65 L627.85,1377.21 L629.55,1378.74 L631.27,1380.25 L632.99,1381.73 L634.72,1383.19 L636.46,1384.62 L638.21,1386.02 L639.97,1387.39 L641.73,1388.74 L643.51,1390.06 L645.30,1391.35 L647.10,1392.61 L648.90,1393.84 L650.72,1395.04 L652.54,1396.21 L654.38,1397.36 L656.22,1398.47 L658.08,1399.54 L659.94,1400.59 L661.81,1401.61 L663.70,1402.59 L665.59,1403.54 L667.49,1404.46 L669.41,1405.35 L671.33,1406.20 L673.26,1407.03 L675.20,1407.83 L677.14,1408.59 L679.10,1409.33 L681.06,1410.04 L683.04,1410.72 L685.02,1411.37 L687.00,1412.00 L689.00,1412.60 L691.00,1413.17 L693.01,1413.72 L695.03,1414.24 L697.06,1414.73 L699.09,1415.20 L701.12,1415.65 L703.17,1416.07 L705.22,1416.47 L707.27,1416.85 L709.34,1417.21 L711.40,1417.54 L713.48,1417.85 L715.56,1418.14 L717.64,1418.41 L719.73,1418.65 L721.82,1418.88 L723.92,1419.09 L726.02,1419.28 L728.13,1419.45 L730.24,1419.61 L732.36,1419.74 L734.48,1419.86 L736.60,1419.97 L738.73,1420.05 L740.85,1420.12 L742.99,1420.18 L745.12,1420.22 L747.26,1420.24 L749.40,1420.25 L751.54,1420.25 L753.69,1420.23 L755.84,1420.20 L757.99,1420.16 L760.14,1420.11 L762.29,1420.05 L764.44,1419.97 L766.60,1419.88 L768.76,1419.79 L770.91,1419.68 L773.07,1419.57 L775.23,1419.44 L777.39,1419.31 L779.55,1419.17 L781.71,1419.02 L783.86,1418.87 L786.02,1418.71 L788.18,1418.54 L790.34,1418.37 L792.49,1418.19 L794.65,1418.01 L796.80,1417.82 L798.96,1417.63 L801.11,1417.43 L803.26,1417.24 L805.40,1417.04 L807.55,1416.83 L809.69,1416.63 L811.83,1416.42 L813.97,1416.22 L816.11,1416.01 L818.24,1415.80 L820.37,1415.59 L822.49,1415.39 L824.62,1415.18 L826.74,1414.97 L828.86,1414.76 L830.98,1414.54 L833.09,1414.33 L835.20,1414.11 L837.31,1413.90 L839.41,1413.68 L841.52,1413.46 L843.62,1413.23 L845.72,1413.00 L847.81,1412.77 L849.91,1412.54 L852.00,1412.31 L854.09,1412.07 L856.18,1411.83 L858.26,1411.58 L860.35,1411.33 L862.43,1411.07 L864.51,1410.82 L866.58,1410.55 L868.66,1410.28 L870.73,1410.01 L872.80,1409.73 L874.87,1409.45 L876.94,1409.16 L879.01,1408.87 L881.07,1408.57 L883.13,1408.26 L885.19,1407.95 L887.25,1407.63 L889.31,1407.31 L891.37,1406.97 L893.42,1406.64 L895.47,1406.29 L897.53,1405.94 L899.58,1405.58 L901.63,1405.21 L903.67,1404.83 L905.72,1404.45 L907.77,1404.05 L909.81,1403.65 L911.85,1403.24 L913.89,1402.82 L915.94,1402.40 L917.97,1401.96 L920.01,1401.51 L922.05,1401.06 L924.09,1400.59 L926.12,1400.12 L928.16,1399.63 L930.19,1399.14 L932.23,1398.63 L934.26,1398.11 L936.29,1397.58 L938.32,1397.05 L940.35,1396.50 L942.39,1395.93 L944.42,1395.36 L946.44,1394.78 L948.47,1394.18 L950.50,1393.57 L952.53,1392.95 L954.55,1392.32 L956.58,1391.68 L958.61,1391.03 L960.63,1390.36 L962.65,1389.69 L964.68,1389.01 L966.70,1388.31 L968.72,1387.60 L970.74,1386.89 L972.76,1386.16 L974.77,1385.42 L976.79,1384.67 L978.81,1383.91 L980.82,1383.15 L982.83,1382.37 L984.85,1381.58 L986.86,1380.78 L988.86,1379.97 L990.87,1379.16 L992.88,1378.33 L994.88,1377.49 L996.89,1376.65 L998.89,1375.79 L1000.89,1374.93 L1002.89,1374.06 L1004.89,1373.18 L1006.88,1372.28 L1008.88,1371.39 L1010.87,1370.48 L1012.86,1369.56 L1014.85,1368.63 L1016.84,1367.70 L1018.82,1366.76 L1020.81,1365.81 L1022.79,1364.85 L1024.77,1363.88 L1026.74,1362.91 L1028.72,1361.92 L1030.69,1360.93 L1032.66,1359.94 L1034.63,1358.93 L1036.60,1357.92 L1038.57,1356.89 L1040.53,1355.87 L1042.49,1354.83 L1044.45,1353.79 L1046.40,1352.74 L1048.36,1351.68 L1050.31,1350.62 L1052.26,1349.55 L1054.21,1348.48 L1056.16,1347.40 L1058.10,1346.31 L1060.04,1345.22 L1061.99,1344.12 L1063.93,1343.02 L1065.86,1341.91 L1067.80,1340.80 L1069.74,1339.68 L1071.67,1338.56 L1073.60,1337.43 L1075.53,1336.30 L1077.46,1335.16 L1079.39,1334.03 L1081.32,1332.88 L1083.24,1331.74 L1085.17,1330.59 L1087.09,1329.44 L1089.01,1328.28 L1090.94,1327.13 L1092.86,1325.97 L1094.78,1324.81 L1096.70,1323.64 L1098.61,1322.48 L1100.53,1321.31 L1102.45,1320.14 L1104.37,1318.97 L1106.28,1317.79 L1108.20,1316.62 L1110.11,1315.45 L1112.03,1314.27 L1113.94,1313.10 L1115.85,1311.92 L1117.77,1310.74 L1119.68,1309.57 L1121.60,1308.39 L1123.51,1307.22 L1125.42,1306.04 L1127.33,1304.87 L1129.25,1303.69 L1131.16,1302.52 L1133.07,1301.35 L1134.99,1300.18 L1136.90,1299.01 L1138.82,1297.85 L1140.73,1296.68 L1142.65,1295.52 L1144.56,1294.36 L1146.48,1293.20 L1148.39,1292.05 L1150.31,1290.90 L1152.23,1289.75 L1154.15,1288.60 L1156.06,1287.46 L1157.98,1286.32 L1159.90,1285.19 L1161.83,1284.06 L1163.75,1282.93 L1165.67,1281.81 L1167.60,1280.69 L1169.52,1279.58 L1171.45,1278.47 L1173.38,1277.37 L1175.31,1276.27 L1177.24,1275.18 L1179.17,1274.09 L1181.10,1273.01 L1183.04,1271.93 L1184.97,1270.86 L1186.91,1269.80 L1188.85,1268.74 L1190.79,1267.69 L1192.73,1266.65 L1194.68,1265.62 L1196.62,1264.59 L1198.57,1263.57 L1200.52,1262.55 L1202.47,1261.55 L1204.42,1260.55 L1206.38,1259.56 L1208.34,1258.58 L1210.30,1257.60 L1212.26,1256.64 L1214.22,1255.68 L1216.19,1254.74 L1218.16,1253.80 L1220.13,1252.87 L1222.10,1251.95 L1224.08,1251.04 L1226.06,1250.14 L1228.04,1249.26 L1230.02,1248.38 L1232.01,1247.51 L1234.00,1246.65 L1235.99,1245.80 L1237.99,1244.97 L1239.98,1244.14 L1241.98,1243.33 L1243.99,1242.53 L1245.99,1241.74 L1248.00,1240.96 L1250.01,1240.19 L1252.03,1239.43 L1254.05,1238.68 L1256.07,1237.94 L1258.09,1237.22 L1260.11,1236.50 L1262.14,1235.80 L1264.17,1235.10 L1266.20,1234.42 L1268.24,1233.74 L1270.27,1233.08 L1272.31,1232.43 L1274.35,1231.78 L1276.40,1231.15 L1278.44,1230.53 L1280.49,1229.91 L1282.54,1229.31 L1284.59,1228.71 L1286.64,1228.13 L1288.70,1227.55 L1290.76,1226.99 L1292.82,1226.43 L1294.88,1225.89 L1296.94,1225.35 L1299.01,1224.82 L1301.07,1224.30 L1303.14,1223.79 L1305.21,1223.29 L1307.28,1222.80 L1309.36,1222.32 L1311.43,1221.84 L1313.51,1221.38 L1315.59,1220.92 L1317.66,1220.47 L1319.74,1220.03 L1321.83,1219.60 L1323.91,1219.18 L1325.99,1218.77 L1328.08,1218.36 L1330.16,1217.96 L1332.25,1217.57 L1334.34,1217.19 L1336.43,1216.82 L1338.52,1216.45 L1340.61,1216.09 L1342.71,1215.74 L1344.80,1215.40 L1346.89,1215.06 L1348.99,1214.74 L1351.08,1214.42 L1353.18,1214.10 L1355.28,1213.80 L1357.37,1213.50 L1359.47,1213.21 L1361.57,1212.93 L1363.67,1212.65 L1365.77,1212.38 L1367.87,1212.12 L1369.97,1211.86 L1372.07,1211.61 L1374.17,1211.37 L1376.28,1211.14 L1378.38,1210.91 L1380.48,1210.68 L1382.58,1210.47 L1384.68,1210.26 L1386.79,1210.05 L1388.89,1209.86 L1390.99,1209.66 L1393.09,1209.48 L1395.19,1209.30 L1397.30,1209.13 L1399.40,1208.96 L1401.50,1208.80 L1403.60,1208.64 L1405.70,1208.49 L1407.80,1208.35 L1409.90,1208.21 L1412.00,1208.07 L1414.10,1207.94 L1416.20,1207.82 L1418.30,1207.70 L1420.40,1207.59 L1422.49,1207.48 L1424.59,1207.38 L1426.69,1207.28 L1428.78,1207.19 L1430.88,1207.10 L1432.97,1207.02 L1435.06,1206.94 L1437.15,1206.86 L1439.24,1206.79 L1441.33,1206.73 L1443.42,1206.67 L1445.51,1206.61 L1447.60,1206.56 L1449.69,1206.52 L1451.77,1206.47 L1453.86,1206.44 L1455.94,1206.41 L1458.03,1206.38 L1460.11,1206.36 L1462.19,1206.34 L1464.28,1206.33 L1466.36,1206.33 L1468.44,1206.33 L1470.52,1206.33 L1472.61,1206.34 L1474.69,1206.36 L1476.77,1206.38 L1478.85,1206.41 L1480.93,1206.44 L1483.01,1206.48 L1485.09,1206.52 L1487.17,1206.57 L1489.25,1206.63 L1491.33,1206.69 L1493.42,1206.76 L1495.50,1206.83 L1497.58,1206.91 L1499.66,1206.99 L1501.74,1207.09 L1503.82,1207.18 L1505.91,1207.29 L1507.99,1207.40 L1510.07,1207.51 L1512.16,1207.64 L1514.24,1207.76 L1516.33,1207.90 L1518.41,1208.04 L1520.50,1208.19 L1522.58,1208.35 L1524.67,1208.51 L1526.76,1208.68 L1528.85,1208.85 L1530.94,1209.03 L1533.03,1209.22 L1535.12,1209.42 L1537.21,1209.62 L1539.31,1209.83 L1541.40,1210.05 L1543.50,1210.27 L1545.59,1210.50 L1547.69,1210.74 L1549.79,1210.99 L1551.89,1211.24 L1553.99,1211.50 L1556.09,1211.77 L1558.20,1212.04 L1560.30,1212.33 L1562.41,1212.62 L1564.52,1212.91 L1566.63,1213.22 L1568.74,1213.53 L1570.85,1213.85 L1572.96,1214.18 L1575.08,1214.52 L1577.20,1214.86 L1579.32,1215.22" fill="none" stroke="#00ff00" stroke-width="8.0" stroke-linejoin="round" stroke-linecap="butt"/>
</g></g>
<rect x="375" y="1204" width="1757" height="8" fill="#0a0a0a"/>
<rect x="423" y="56" width="12" height="1704" fill="#080808"/>
<rect x="375" y="56" width="1763" height="8" fill="#080808"/>
<rect x="2130" y="60" width="4" height="1699" fill="#808080"/>
<rect x="2134" y="60" width="8" height="1699" fill="#000"/>
<rect x="2142" y="60" width="4" height="1699" fill="#404040"/>
<rect x="423" y="1736" width="1723" height="4" fill="#505050"/>
<rect x="423" y="1740" width="1723" height="4" fill="#000"/>
<rect x="435" y="1744" width="1695" height="3.5" fill="#b0b0b0"/>
<rect x="375" y="439.5" width="48" height="8" fill="#101010"/>
<rect x="375" y="822" width="48" height="8" fill="#101010"/>
<rect x="375" y="1204" width="48" height="8" fill="#101010"/>
<rect x="375" y="1588" width="48" height="8" fill="#101010"/>
<rect x="403" y="244.0" width="20" height="8" fill="#101010"/>
<rect x="403" y="628.0" width="20" height="8" fill="#101010"/>
<rect x="403" y="1011.0" width="20" height="8" fill="#101010"/>
<rect x="403" y="1393.5" width="20" height="8" fill="#101010"/>
<rect x="566.5" y="1744" width="12" height="31.5" fill="#000"/>
<rect x="852.2" y="1744" width="12" height="31.5" fill="#000"/>
<rect x="1138.0" y="1744" width="12" height="31.5" fill="#000"/>
<rect x="1418.0" y="1744" width="12" height="31.5" fill="#000"/>
<rect x="1704.2" y="1744" width="12" height="31.5" fill="#000"/>
<rect x="1990.0" y="1744" width="12" height="31.5" fill="#000"/>
<rect x="708.5" y="1744" width="12" height="16" fill="#000"/>
<rect x="994.5" y="1744" width="12" height="16" fill="#000"/>
<rect x="1280.6" y="1744" width="12" height="16" fill="#000"/>
<rect x="1560.5" y="1744" width="12" height="16" fill="#000"/>
<rect x="1846.5" y="1744" width="12" height="16" fill="#000"/>
<text transform="matrix(1.1030 0 0 0.6215 275.47 79.17)" font-family="NanumGothic, 'Liberation Sans', sans-serif" font-size="100" fill="#000" style="font-kerning:none" >3</text>
<text transform="matrix(1.1111 0 0 0.6764 277.11 463.80)" font-family="NanumGothic, 'Liberation Sans', sans-serif" font-size="100" fill="#000" style="font-kerning:none" >2</text>
<text transform="matrix(1.2335 0 0 0.6367 273.48 843.81)" font-family="NanumGothic, 'Liberation Sans', sans-serif" font-size="100" fill="#000" style="font-kerning:none" >1</text>
<text transform="matrix(1.0612 0 0 0.6349 276.53 1227.56)" font-family="NanumGothic, 'Liberation Sans', sans-serif" font-size="100" fill="#000" style="font-kerning:none" >0</text>
<text transform="matrix(0.7307 0 0 0.7014 235.40 1615.32)" font-family="'Liberation Sans', sans-serif" font-size="100" fill="#000" style="font-kerning:none" >−</text>
<text transform="matrix(1.2335 0 0 0.6434 273.48 1611.81)" font-family="NanumGothic, 'Liberation Sans', sans-serif" font-size="100" fill="#000" style="font-kerning:none" >1</text>
<text transform="matrix(0.9724 0 0 0.6332 479.57 1846.56)" font-family="NanumGothic, 'Liberation Sans', sans-serif" font-size="100" fill="#000" style="font-kerning:none" >200</text>
<text transform="matrix(0.9700 0 0 0.6332 764.99 1846.56)" font-family="NanumGothic, 'Liberation Sans', sans-serif" font-size="100" fill="#000" style="font-kerning:none" >210</text>
<text transform="matrix(0.9624 0 0 0.6332 1052.63 1847.56)" font-family="NanumGothic, 'Liberation Sans', sans-serif" font-size="100" fill="#000" style="font-kerning:none" >220</text>
<text transform="matrix(0.9865 0 0 0.6386 1336.58 1846.96)" font-family="NanumGothic, 'Liberation Sans', sans-serif" font-size="100" fill="#000" style="font-kerning:none" >230</text>
<text transform="matrix(0.9700 0 0 0.6266 1623.99 1847.06)" font-family="NanumGothic, 'Liberation Sans', sans-serif" font-size="100" fill="#000" style="font-kerning:none" >240</text>
<text transform="matrix(0.9700 0 0 0.6176 1910.99 1846.38)" font-family="NanumGothic, 'Liberation Sans', sans-serif" font-size="100" fill="#000" style="font-kerning:none" >250</text>
<rect x="817" y="118" width="1242" height="397" fill="none" stroke="#d6d6d6" stroke-width="11"/>
<rect x="817" y="118" width="1242" height="397" fill="none" stroke="#404040" stroke-width="4"/>
<rect x="839" y="165" width="206" height="10" fill="#000"/>
<rect x="839" y="289.5" width="206" height="10" fill="#ff0000"/>
<rect x="839" y="413.5" width="206" height="10" fill="#00ff00"/>
<text transform="matrix(0.7518 0 0 0.9522 1065.56 198.56)" font-family="'Liberation Sans', sans-serif" font-size="100" fill="#000" style="font-kerning:none" stroke="#000" stroke-width="1.4" stroke-linejoin="round">t</text>
<text transform="matrix(0.9530 0 0 0.9806 1120.05 199.27)" font-family="'Liberation Sans', sans-serif" font-size="100" fill="#000" style="font-kerning:none" stroke="#000" stroke-width="1.4" stroke-linejoin="round">=</text>
<text transform="matrix(0.8603 0 0 0.8870 1201.37 198.93)" font-family="'Liberation Sans', sans-serif" font-size="100" fill="#000" style="font-kerning:none" stroke="#000" stroke-width="1.4" stroke-linejoin="round">20</text>
<text transform="matrix(0.8290 0 0 0.8658 1327.60 196.03)" font-family="'Liberation Sans', sans-serif" font-weight="bold" font-size="100" fill="#000" style="font-kerning:none" >day</text>
<text transform="matrix(1.4672 0 0 0.9524 1541.82 199.12)" font-family="'Liberation Sans', sans-serif" font-size="100" fill="#000" style="font-kerning:none" >;</text>
<text transform="matrix(0.7205 0 0 0.9598 1602.11 199.05)" font-family="'Liberation Sans', sans-serif" font-size="100" fill="#000" style="font-kerning:none" stroke="#000" stroke-width="1.4" stroke-linejoin="round">t</text>
<text transform="matrix(0.4399 0 0 0.5262 1630.53 219.80)" font-family="'Liberation Sans', sans-serif" font-weight="bold" font-size="100" fill="#000" style="font-kerning:none" >v</text>
<text transform="matrix(0.9345 0 0 0.9961 1642.54 199.03)" font-family="'Liberation Sans', sans-serif" font-size="100" fill="#000" style="font-kerning:none" stroke="#000" stroke-width="1.4" stroke-linejoin="round">=</text>
<text transform="matrix(1.1498 0 0 0.8579 1714.67 200.54)" font-family="NanumGothic, 'Liberation Sans', sans-serif" font-size="100" fill="#000" style="font-kerning:none" stroke="#000" stroke-width="1.4" stroke-linejoin="round">1</text>
<text transform="matrix(0.8248 0 0 0.8733 1815.02 196.58)" font-family="'Liberation Sans', sans-serif" font-weight="bold" font-size="100" fill="#000" style="font-kerning:none" >day</text>
<text transform="matrix(0.7518 0 0 0.9522 1065.56 326.86)" font-family="'Liberation Sans', sans-serif" font-size="100" fill="#000" style="font-kerning:none" stroke="#000" stroke-width="1.4" stroke-linejoin="round">t</text>
<text transform="matrix(0.9530 0 0 0.9806 1120.05 327.57)" font-family="'Liberation Sans', sans-serif" font-size="100" fill="#000" style="font-kerning:none" stroke="#000" stroke-width="1.4" stroke-linejoin="round">=</text>
<text transform="matrix(0.8603 0 0 0.8870 1201.37 327.23)" font-family="'Liberation Sans', sans-serif" font-size="100" fill="#000" style="font-kerning:none" stroke="#000" stroke-width="1.4" stroke-linejoin="round">20</text>
<text transform="matrix(0.8290 0 0 0.8658 1327.60 323.73)" font-family="'Liberation Sans', sans-serif" font-weight="bold" font-size="100" fill="#000" style="font-kerning:none" >day</text>
<text transform="matrix(1.4672 0 0 0.9524 1541.82 327.42)" font-family="'Liberation Sans', sans-serif" font-size="100" fill="#000" style="font-kerning:none" >;</text>
<text transform="matrix(0.7205 0 0 0.9598 1602.11 327.35)" font-family="'Liberation Sans', sans-serif" font-size="100" fill="#000" style="font-kerning:none" stroke="#000" stroke-width="1.4" stroke-linejoin="round">t</text>
<text transform="matrix(0.4399 0 0 0.5262 1630.53 348.10)" font-family="'Liberation Sans', sans-serif" font-weight="bold" font-size="100" fill="#000" style="font-kerning:none" >v</text>
<text transform="matrix(0.9345 0 0 0.9961 1642.54 327.33)" font-family="'Liberation Sans', sans-serif" font-size="100" fill="#000" style="font-kerning:none" stroke="#000" stroke-width="1.4" stroke-linejoin="round">=</text>
<text transform="matrix(0.9109 0 0 0.9433 1717.61 329.60)" font-family="'Liberation Sans', sans-serif" font-size="100" fill="#000" style="font-kerning:none" stroke="#000" stroke-width="1.4" stroke-linejoin="round">4</text>
<text transform="matrix(0.8248 0 0 0.8733 1815.02 324.28)" font-family="'Liberation Sans', sans-serif" font-weight="bold" font-size="100" fill="#000" style="font-kerning:none" >day</text>
<text transform="matrix(0.7518 0 0 0.9522 1065.56 450.56)" font-family="'Liberation Sans', sans-serif" font-size="100" fill="#000" style="font-kerning:none" stroke="#000" stroke-width="1.4" stroke-linejoin="round">t</text>
<text transform="matrix(0.9530 0 0 0.9806 1120.05 451.27)" font-family="'Liberation Sans', sans-serif" font-size="100" fill="#000" style="font-kerning:none" stroke="#000" stroke-width="1.4" stroke-linejoin="round">=</text>
<text transform="matrix(0.8603 0 0 0.8870 1201.37 450.93)" font-family="'Liberation Sans', sans-serif" font-size="100" fill="#000" style="font-kerning:none" stroke="#000" stroke-width="1.4" stroke-linejoin="round">20</text>
<text transform="matrix(0.8290 0 0 0.8658 1327.60 446.73)" font-family="'Liberation Sans', sans-serif" font-weight="bold" font-size="100" fill="#000" style="font-kerning:none" >day</text>
<text transform="matrix(1.4672 0 0 0.9524 1541.82 451.12)" font-family="'Liberation Sans', sans-serif" font-size="100" fill="#000" style="font-kerning:none" >;</text>
<text transform="matrix(0.7205 0 0 0.9598 1602.11 451.05)" font-family="'Liberation Sans', sans-serif" font-size="100" fill="#000" style="font-kerning:none" stroke="#000" stroke-width="1.4" stroke-linejoin="round">t</text>
<text transform="matrix(0.4399 0 0 0.5262 1630.53 471.80)" font-family="'Liberation Sans', sans-serif" font-weight="bold" font-size="100" fill="#000" style="font-kerning:none" >v</text>
<text transform="matrix(0.9345 0 0 0.9961 1642.54 451.03)" font-family="'Liberation Sans', sans-serif" font-size="100" fill="#000" style="font-kerning:none" stroke="#000" stroke-width="1.4" stroke-linejoin="round">=</text>
<text transform="matrix(0.9063 0 0 0.9433 1719.75 453.60)" font-family="'Liberation Sans', sans-serif" font-size="100" fill="#000" style="font-kerning:none" stroke="#000" stroke-width="1.4" stroke-linejoin="round">7</text>
<text transform="matrix(0.8248 0 0 0.8733 1815.02 447.28)" font-family="'Liberation Sans', sans-serif" font-weight="bold" font-size="100" fill="#000" style="font-kerning:none" >day</text>
<text transform="matrix(0 -0.8011 1.2724 0 163.00 1260.34)" font-family="'Liberation Serif', serif" font-style="italic" font-size="100" fill="#000" style="font-kerning:none" >Δ</text>
<text transform="matrix(0 -0.7266 1.2475 0 161.78 1209.56)" font-family="'Liberation Serif', serif" font-style="italic" font-size="100" fill="#000" style="font-kerning:none" >ε</text>
<text transform="matrix(0 -0.7920 1.3525 0 161.50 1165.91)" font-family="'Liberation Sans', sans-serif" font-size="100" fill="#000" style="font-kerning:none" >(</text>
<text transform="matrix(0 -0.7910 1.3571 0 161.34 1141.25)" font-family="'Liberation Sans', sans-serif" font-size="100" fill="#000" style="font-kerning:none" >mdegM</text>
<text transform="matrix(0 -0.4915 1.5360 0 109.80 878.18)" font-family="'Liberation Sans', sans-serif" font-size="100" fill="#000" style="font-kerning:none" >-</text>
<text transform="matrix(0 -0.5286 0.8043 0 90.76 863.51)" font-family="NanumGothic, 'Liberation Sans', sans-serif" font-size="100" fill="#000" style="font-kerning:none" >1</text>
<text transform="matrix(0 -0.7758 1.2960 0 160.73 838.30)" font-family="'Liberation Sans', sans-serif" font-size="100" fill="#000" style="font-kerning:none" >cm</text>
<text transform="matrix(0 -0.5734 1.5360 0 109.80 736.55)" font-family="'Liberation Sans', sans-serif" font-size="100" fill="#000" style="font-kerning:none" >-</text>
<text transform="matrix(0 -0.6608 0.8043 0 90.76 724.38)" font-family="NanumGothic, 'Liberation Sans', sans-serif" font-size="100" fill="#000" style="font-kerning:none" >1</text>
<text transform="matrix(0 -0.8298 1.3632 0 161.78 691.49)" font-family="'Liberation Sans', sans-serif" font-size="100" fill="#000" style="font-kerning:none" >)</text>
<text transform="matrix(1.6145 0 0 0.7897 1090.52 1970.60)" font-family="'Liberation Serif', serif" font-weight="bold" font-style="italic" font-size="100" fill="#000" style="font-kerning:none" >λ</text>
<text transform="matrix(1.5156 0 0 0.8038 1182.87 1974.31)" font-family="NanumGothic, 'Liberation Sans', sans-serif" font-size="100" fill="#000" style="font-kerning:none" >(</text>
<text transform="matrix(1.4473 0 0 0.8735 1237.69 1969.80)" font-family="'Liberation Sans', sans-serif" font-size="100" fill="#000" style="font-kerning:none" stroke="#000" stroke-width="1.6" stroke-linejoin="round">nm</text>
<text transform="matrix(1.4286 0 0 0.8038 1444.14 1974.31)" font-family="NanumGothic, 'Liberation Sans', sans-serif" font-size="100" fill="#000" style="font-kerning:none" >)</text></svg></body></html>
